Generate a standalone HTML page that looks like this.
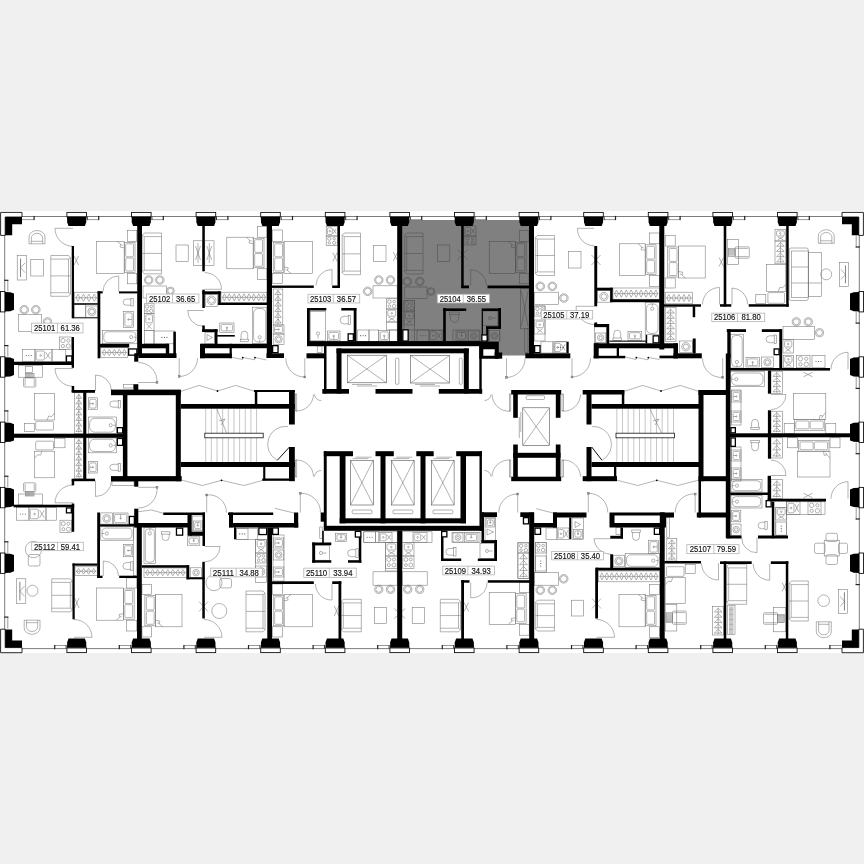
<!DOCTYPE html>
<html lang="ru"><head><meta charset="utf-8"><title>Floor plan</title>
<style>
html,body{margin:0;padding:0;background:#f0f0f0;}
body{width:864px;height:864px;overflow:hidden;font-family:"Liberation Sans",Arial,sans-serif;}
svg{display:block;filter:grayscale(1) blur(0.3px);}
</style></head><body>
<svg width="864" height="864" viewBox="0 0 864 864">
<rect x="0" y="211" width="864" height="442" fill="#fff"/>
<g><polygon fill="#808080" points="402,220 529.5,220 529.5,355.6 497.5,355.6 497.5,342 402,342"/></g>
<g fill="none" stroke="#747474" stroke-width="0.55"><path d="M29 243.8V236.9A8 6.4 0 0 1 45 236.9V243.8Z"/>
<path d="M31.3 243.8V238.1A5.7 4.8 0 0 1 42.7 238.1V243.8"/>
<polyline points="31.3,241.3 42.7,241.3"/>
<path d="M73 228.3L55 228.3A18 18 0 0 0 73 246.3"/>
<rect x="17.2" y="255.5" width="9.5" height="24.5"/>
<polyline points="20.52,258.5 20.52,277" stroke-width="0.9"/>
<polyline points="25.2,262.75 20.52,267.75 25.2,272.75"/>
<rect x="30.8" y="259.3" width="12.9" height="16.7"/>
<path d="M50.8 255.5H68.5L70.5 257.7V294.1L68.5 296.3H50.8Z"/>
<polyline points="50.8,259.1 68.5,259.1 70.5,257.7"/>
<polyline points="50.8,292.7 68.5,292.7 70.5,294.1"/>
<polyline points="68.5,259.1 68.5,292.7"/>
<polyline points="50.8,275.9 70.5,275.9"/>
<path d="M74.05 256L78.55 265M78.55 256L74.05 265"/>
<rect x="96.3" y="241.3" width="27.9" height="32.2"/>
<rect x="124.2" y="242.3" width="10.8" height="30.2"/>
<rect x="125.7" y="243.8" width="7.8" height="13" rx="1"/>
<rect x="125.7" y="258" width="7.8" height="13" rx="1"/>
<polyline points="117.2,241.3 120.7,244.3 120,247.1 124.2,247.8"/>
<polyline points="120.7,244.3 122.7,245.5"/>
<rect x="127.5" y="230.5" width="9.3" height="10.8"/>
<rect x="127.5" y="273.5" width="9.3" height="10.3"/>
<path d="M118.7 291.5L118.7 276A15.5 15.5 0 0 0 103 291.5"/>
<rect x="74.3" y="292.2" width="23.7" height="11.1"/>
<path d="M75.3 297.75H97M75.95 297.75L78.01 294.15L80.07 297.75L78.01 301.35ZM81.38 297.75L83.44 294.15L85.5 297.75L83.44 301.35ZM86.8 297.75L88.86 294.15L90.92 297.75L88.86 301.35ZM92.23 297.75L94.29 294.15L96.35 297.75L94.29 301.35Z"/>
<rect x="74.3" y="304.7" width="11.5" height="12.5"/>
<rect x="85.8" y="306" width="12" height="11.2"/>
<circle cx="91.8" cy="311.6" r="4"/>
<circle cx="91.8" cy="311.6" r="2.5"/>
<circle cx="24.2" cy="309.7" r="4.3"/>
<circle cx="24.2" cy="309.7" r="3.2"/>
<circle cx="35.8" cy="309.7" r="4.3"/>
<circle cx="35.8" cy="309.7" r="3.2"/>
<circle cx="47.5" cy="321.8" r="4.1"/>
<circle cx="47.5" cy="321.8" r="3"/>
<rect x="18.3" y="314.7" width="23.4" height="16.6"/>
<rect x="59.5" y="337" width="12.2" height="12.5"/>
<circle cx="62.92" cy="340.5" r="2.12"/>
<circle cx="68.28" cy="340.5" r="1.59"/>
<circle cx="62.92" cy="346" r="1.59"/>
<circle cx="68.28" cy="346" r="2.12"/>
<rect x="22.5" y="349.5" width="12.5" height="12"/>
<circle cx="26.25" cy="355.5" r="0.55" fill="#555" stroke="none"/>
<circle cx="28.75" cy="355.5" r="0.55" fill="#555" stroke="none"/>
<circle cx="31.25" cy="355.5" r="0.55" fill="#555" stroke="none"/>
<rect x="35" y="349.5" width="17" height="12"/>
<rect x="36.2" y="351" width="8.15" height="9" rx="1.2"/>
<polyline points="45.54,352 50.3,359"/>
<polyline points="50.3,352 45.54,359"/>
<circle cx="40.61" cy="355.5" r="0.8"/>
<rect x="52" y="349.5" width="13.8" height="12"/>
<rect x="130.9" y="298.3" width="2.3" height="7.7"/>
<path d="M130.9 299.1H126.35A3.25 3.05 0 0 0 126.35 305.2H130.9"/>
<rect x="123.5" y="311.5" width="10" height="16"/>
<rect x="124.9" y="312.9" width="7.2" height="13.2" rx="1.2"/>
<polyline points="132.1,319.5 128.5,319.5"/>
<circle cx="128.5" cy="319.5" r="0.7"/>
<rect x="102.5" y="330.5" width="34.7" height="13.3"/>
<rect x="103.8" y="331.8" width="32.1" height="10.7" rx="4.01"/>
<circle cx="131.2" cy="337.15" r="1.6"/>
<polyline points="133.8,337.15 136.2,337.15"/>
<rect x="100.8" y="347.8" width="27" height="9.5"/>
<path d="M101.8 352.55H126.8M102.4 352.55L104.3 349.4L106.2 352.55L104.3 355.7ZM107.4 352.55L109.3 349.4L111.2 352.55L109.3 355.7ZM112.4 352.55L114.3 349.4L116.2 352.55L114.3 355.7ZM117.4 352.55L119.3 349.4L121.2 352.55L119.3 355.7ZM122.4 352.55L124.3 349.4L126.2 352.55L124.3 355.7Z"/>
<rect x="18.3" y="365.3" width="24.2" height="11.9"/>
<rect x="23.5" y="377.82" width="12.3" height="9.18" rx="1.2"/>
<rect x="25.3" y="373.5" width="8.7" height="4.32"/>
<polyline points="26.3,373.5 26.3,377.82"/>
<polyline points="27.4,373.5 27.4,377.82"/>
<polyline points="28.5,373.5 28.5,377.82"/>
<polyline points="29.6,373.5 29.6,377.82"/>
<polyline points="30.7,373.5 30.7,377.82"/>
<polyline points="31.8,373.5 31.8,377.82"/>
<polyline points="32.9,373.5 32.9,377.82"/>
<polyline points="25.1,378.82 25.1,386"/>
<polyline points="34.2,378.82 34.2,386"/>
<rect x="25.5" y="366.3" width="7" height="6.2"/>
<path d="M73 368.5L55 368.5A18 18 0 0 0 73 386.3"/>
<rect x="34.5" y="393.3" width="20.2" height="26.7"/>
<rect x="35.7" y="421.3" width="17.8" height="8.7" rx="1"/>
<polyline points="54.7,413 51.7,416.5 48.7,416 47.2,420"/>
<rect x="24.7" y="423.3" width="9.8" height="8.2"/>
<rect x="34.5" y="451.2" width="20.2" height="26.6"/>
<rect x="35.7" y="441.2" width="17.8" height="8.7" rx="1"/>
<polyline points="34.5,458.2 37.5,454.7 40.5,455.2 42,451.2"/>
<rect x="54.7" y="438.7" width="10.3" height="9.1"/>
<rect x="74.3" y="392.8" width="9" height="40.7"/>
<path d="M78.8 393.8V432.5M78.8 394.35L75.9 398.33L81.7 398.33ZM78.8 399.88L75.9 403.86L81.7 403.86ZM78.8 405.41L75.9 409.39L81.7 409.39ZM78.8 410.94L75.9 414.92L81.7 414.92ZM78.8 416.47L75.9 420.45L81.7 420.45ZM78.8 422L75.9 425.98L81.7 425.98ZM78.8 427.52L75.9 431.5L81.7 431.5Z"/>
<rect x="74.3" y="438" width="9" height="40.7"/>
<path d="M78.8 439V477.7M78.8 439.55L75.9 443.53L81.7 443.53ZM78.8 445.08L75.9 449.06L81.7 449.06ZM78.8 450.61L75.9 454.59L81.7 454.59ZM78.8 456.14L75.9 460.12L81.7 460.12ZM78.8 461.67L75.9 465.65L81.7 465.65ZM78.8 467.2L75.9 471.18L81.7 471.18ZM78.8 472.72L75.9 476.7L81.7 476.7Z"/>
<path d="M95.5 391L95.5 375A16 16 0 0 1 111.5 391"/>
<path d="M95.5 480.5L95.5 496.5A16 16 0 0 0 111.5 480.5"/>
<rect x="88.3" y="397.8" width="9.2" height="11.7"/>
<rect x="89.7" y="399.2" width="6.4" height="8.9" rx="1.2"/>
<polyline points="89.7,403.65 92.9,403.65"/>
<circle cx="92.9" cy="403.65" r="0.7"/>
<rect x="118.2" y="400.3" width="2.3" height="7.7"/>
<path d="M118.2 401.1H113.05A3.25 3.05 0 0 0 113.05 407.2H118.2"/>
<rect x="88.3" y="417" width="28.4" height="16.5"/>
<rect x="89.6" y="418.3" width="25.8" height="13.9" rx="5.21"/>
<circle cx="110.7" cy="425.25" r="1.6"/>
<polyline points="113.3,425.25 115.7,425.25"/>
<rect x="88.3" y="438" width="28.4" height="14.8"/>
<rect x="89.6" y="439.3" width="25.8" height="12.2" rx="4.58"/>
<circle cx="110.7" cy="445.4" r="1.6"/>
<polyline points="113.3,445.4 115.7,445.4"/>
<rect x="88.3" y="461.5" width="9.2" height="11.5"/>
<rect x="89.7" y="462.9" width="6.4" height="8.7" rx="1.2"/>
<polyline points="89.7,467.25 92.9,467.25"/>
<circle cx="92.9" cy="467.25" r="0.7"/>
<rect x="118.2" y="463.5" width="2.3" height="7.7"/>
<path d="M118.2 464.3H113.05A3.25 3.05 0 0 0 113.05 470.4H118.2"/>
<rect x="123.5" y="384.5" width="9.8" height="3.5"/>
<rect x="112" y="481.7" width="22" height="3.9"/>
<rect x="156.1" y="381.6" width="1.8" height="1.8" fill="#bbb"/>
<path d="M138.3 382.5L157 382.5A18.7 18.7 0 0 0 138.3 362.5"/>
<rect x="156.1" y="486.4" width="1.8" height="1.8" fill="#bbb"/>
<path d="M138.3 487.3L157 487.3A18.7 18.7 0 0 1 138.3 508"/>
<rect x="178.3" y="375.6" width="1.8" height="1.8" fill="#bbb"/>
<path d="M179.2 358.2L179.2 376.5A18.3 18.3 0 0 0 197.5 358.2"/>
<rect x="205.8" y="494.1" width="1.8" height="1.8" fill="#bbb"/>
<path d="M206.7 512.5L206.7 495A17.5 17.5 0 0 1 226.5 512.5"/>
<rect x="18.3" y="494" width="24.2" height="11"/>
<rect x="23.5" y="482.8" width="12.3" height="8.98" rx="1.2"/>
<rect x="25.3" y="491.78" width="8.7" height="4.22"/>
<polyline points="26.3,491.78 26.3,496"/>
<polyline points="27.4,491.78 27.4,496"/>
<polyline points="28.5,491.78 28.5,496"/>
<polyline points="29.6,491.78 29.6,496"/>
<polyline points="30.7,491.78 30.7,496"/>
<polyline points="31.8,491.78 31.8,496"/>
<polyline points="32.9,491.78 32.9,496"/>
<polyline points="25.1,483.8 25.1,490.78"/>
<polyline points="34.2,483.8 34.2,490.78"/>
<path d="M73 502.8L55 502.8A18 18 0 0 1 73 485"/>
<rect x="16.7" y="507.7" width="12.3" height="12.5"/>
<circle cx="20.35" cy="513.95" r="0.55" fill="#555" stroke="none"/>
<circle cx="22.85" cy="513.95" r="0.55" fill="#555" stroke="none"/>
<circle cx="25.35" cy="513.95" r="0.55" fill="#555" stroke="none"/>
<rect x="29" y="507.7" width="17" height="12.5"/>
<rect x="30.2" y="509.2" width="8.15" height="9.5" rx="1.2"/>
<polyline points="39.54,510.2 44.3,517.7"/>
<polyline points="44.3,510.2 39.54,517.7"/>
<circle cx="34.61" cy="513.95" r="0.8"/>
<rect x="46" y="507.7" width="10.7" height="12.5"/>
<rect x="60" y="520.2" width="11.7" height="12.5"/>
<circle cx="63.28" cy="523.7" r="2.03"/>
<circle cx="68.42" cy="523.7" r="1.53"/>
<circle cx="63.28" cy="529.2" r="1.53"/>
<circle cx="68.42" cy="529.2" r="2.03"/>
<circle cx="33.5" cy="549.5" r="8.2"/>
<rect x="28.3" y="554.5" width="11.7" height="11.5" rx="2"/>
<rect x="16.7" y="578.8" width="9.1" height="24.7"/>
<polyline points="19.88,581.8 19.88,600.5" stroke-width="0.9"/>
<polyline points="24.3,586.15 19.88,591.15 24.3,596.15"/>
<circle cx="32.5" cy="590.7" r="5.5"/>
<path d="M51.7 578.8H70.3L72.3 581V609.6L70.3 611.8H51.7Z"/>
<polyline points="51.7,582.4 70.3,582.4 72.3,581"/>
<polyline points="51.7,608.2 70.3,608.2 72.3,609.6"/>
<polyline points="70.3,582.4 70.3,608.2"/>
<polyline points="51.7,595.3 72.3,595.3"/>
<path d="M74.55 598L79.05 608M79.05 598L74.55 608"/>
<path d="M24.2 620.2V627.98A7.9 6.32 0 0 0 40 627.98V620.2Z"/>
<path d="M26.5 620.2V626.78A5.6 4.72 0 0 0 37.7 626.78V620.2"/>
<polyline points="26.5,622.7 37.7,622.7"/>
<rect x="75" y="566.8" width="22.2" height="8.9"/>
<path d="M76 571.25H96.2M76.61 571.25L78.52 568.4L80.44 571.25L78.52 574.1ZM81.66 571.25L83.57 568.4L85.49 571.25L83.57 574.1ZM86.71 571.25L88.62 568.4L90.54 571.25L88.62 574.1ZM91.76 571.25L93.67 568.4L95.59 571.25L93.67 574.1Z"/>
<path d="M103.3 576L103.3 561A15 15 0 0 1 118.5 576"/>
<rect x="96.7" y="588" width="26.6" height="32.2"/>
<rect x="123.3" y="589" width="10.8" height="30.2"/>
<rect x="124.8" y="590.5" width="7.8" height="13" rx="1"/>
<rect x="124.8" y="604.7" width="7.8" height="13" rx="1"/>
<polyline points="116.3,620.2 119.8,617.2 119.1,614.4 123.3,613.7"/>
<polyline points="119.8,617.2 121.8,616"/>
<rect x="126.7" y="577.9" width="10.1" height="10.1"/>
<rect x="126.7" y="620.2" width="10.1" height="10.8"/>
<path d="M74 637.3L92 637.3A18 18 0 0 0 74 619.5"/>
<rect x="100.8" y="512.9" width="11.7" height="11.2"/>
<circle cx="106.65" cy="518.5" r="4"/>
<circle cx="106.65" cy="518.5" r="2.5"/>
<rect x="113.3" y="513" width="14.7" height="11"/>
<rect x="114.7" y="514.4" width="11.9" height="8.2" rx="1.2"/>
<polyline points="120.65,514.4 120.65,518.5"/>
<circle cx="120.65" cy="518.5" r="0.7"/>
<rect x="100.8" y="526.8" width="32.5" height="13.4"/>
<rect x="102.1" y="528.1" width="29.9" height="10.8" rx="4.05"/>
<circle cx="106.8" cy="533.5" r="1.6"/>
<polyline points="104.2,533.5 101.8,533.5"/>
<rect x="123.3" y="544.3" width="9.5" height="12.5"/>
<rect x="124.7" y="545.7" width="6.7" height="9.7" rx="1.2"/>
<polyline points="131.4,550.55 128.05,550.55"/>
<circle cx="128.05" cy="550.55" r="0.7"/>
<rect x="130.7" y="561.8" width="2.3" height="8.4"/>
<path d="M130.7 562.6H126.5A3.6 3.4 0 0 0 126.5 569.4H130.7"/>
<rect x="133.5" y="527" width="3.3" height="48.5"/>
<path d="M161.5 233H144.2L142.2 235.2V271.6L144.2 273.8H161.5Z"/>
<polyline points="161.5,236.6 144.2,236.6 142.2,235.2"/>
<polyline points="161.5,270.2 144.2,270.2 142.2,271.6"/>
<polyline points="144.2,236.6 144.2,270.2"/>
<polyline points="142.2,253.4 161.5,253.4"/>
<circle cx="148.7" cy="280" r="4.3"/>
<circle cx="148.7" cy="280" r="3.2"/>
<circle cx="159.8" cy="280" r="4.3"/>
<circle cx="159.8" cy="280" r="3.2"/>
<circle cx="170.5" cy="290.8" r="3.8"/>
<circle cx="170.5" cy="290.8" r="2.7"/>
<rect x="143" y="286" width="23.5" height="12"/>
<rect x="176" y="245" width="12.2" height="16.3"/>
<rect x="193.5" y="240.8" width="8.8" height="24.7"/>
<rect x="204.8" y="240.8" width="9.2" height="24.7"/>
<path d="M195.5 246L200.5 260M200.5 246L195.5 260"/>
<path d="M206.8 246L211.8 260M211.8 246L206.8 260"/>
<polyline points="198,243 198,263"/>
<polyline points="209.3,243 209.3,263"/>
<path d="M204.8 289.3L221.5 289.3A16.7 16.7 0 0 0 204.8 272.6"/>
<rect x="226.8" y="237.2" width="26.4" height="31.6"/>
<rect x="253.2" y="238.2" width="10.8" height="29.6"/>
<rect x="254.7" y="239.7" width="7.8" height="12.7" rx="1"/>
<rect x="254.7" y="253.6" width="7.8" height="12.7" rx="1"/>
<polyline points="246.2,237.2 249.7,240.2 249,243 253.2,243.7"/>
<polyline points="249.7,240.2 251.7,241.4"/>
<rect x="257.3" y="226.3" width="9.7" height="10.9"/>
<rect x="257.3" y="268.8" width="9.7" height="10.9"/>
<rect x="221" y="292.2" width="46" height="10.3"/>
<path d="M222 297.35H266M222.59 297.35L224.44 293.8L226.3 297.35L224.44 300.9ZM227.48 297.35L229.33 293.8L231.19 297.35L229.33 300.9ZM232.36 297.35L234.22 293.8L236.08 297.35L234.22 300.9ZM237.25 297.35L239.11 293.8L240.97 297.35L239.11 300.9ZM242.14 297.35L244 293.8L245.86 297.35L244 300.9ZM247.03 297.35L248.89 293.8L250.75 297.35L248.89 300.9ZM251.92 297.35L253.78 293.8L255.64 297.35L253.78 300.9ZM256.81 297.35L258.67 293.8L260.52 297.35L258.67 300.9ZM261.7 297.35L263.56 293.8L265.41 297.35L263.56 300.9Z"/>
<rect x="205.5" y="294.4" width="12" height="11.9"/>
<circle cx="211.5" cy="300.35" r="4.35"/>
<circle cx="211.5" cy="300.35" r="2.85"/>
<rect x="144.3" y="303.8" width="9.7" height="9.7"/>
<circle cx="147.02" cy="306.52" r="1.69"/>
<circle cx="151.28" cy="306.52" r="1.27"/>
<circle cx="147.02" cy="310.78" r="1.27"/>
<circle cx="151.28" cy="310.78" r="1.69"/>
<rect x="144.3" y="313.5" width="9.7" height="17"/>
<rect x="145.8" y="314.7" width="6.7" height="8.15" rx="1.2"/>
<polyline points="146.8,324.04 151.5,328.8"/>
<polyline points="151.5,324.04 146.8,328.8"/>
<circle cx="149.15" cy="319.11" r="0.8"/>
<rect x="144.3" y="330.5" width="9.7" height="13.3"/>
<rect x="154" y="331" width="20.8" height="12.8"/>
<circle cx="161.9" cy="337.4" r="0.55" fill="#555" stroke="none"/>
<circle cx="164.4" cy="337.4" r="0.55" fill="#555" stroke="none"/>
<circle cx="166.9" cy="337.4" r="0.55" fill="#555" stroke="none"/>
<path d="M203.5 310.5L187.7 310.5A15.8 15.8 0 0 0 203.5 326.3"/>
<rect x="205" y="332.3" width="9.5" height="11.2"/>
<polyline points="207,340.5 212.5,337.5 207,334.5 207,340.5"/>
<rect x="219.8" y="323" width="14.2" height="9.3"/>
<rect x="221.2" y="324.4" width="11.4" height="6.5" rx="1.2"/>
<polyline points="226.9,330.9 226.9,327.65"/>
<circle cx="226.9" cy="327.65" r="0.7"/>
<rect x="240.3" y="339.2" width="8.2" height="2.3"/>
<path d="M241.1 339.2V334.6A3.3 3.5 0 0 1 247.7 334.6V339.2"/>
<rect x="252.3" y="307.2" width="14.7" height="36.1"/>
<rect x="253.6" y="308.5" width="12.1" height="33.5" rx="4.54"/>
<circle cx="259.65" cy="337.3" r="1.6"/>
<polyline points="259.65,339.9 259.65,342.3"/>
<rect x="284" y="241.3" width="28.7" height="32.2"/>
<rect x="273.2" y="242.3" width="10.8" height="30.2"/>
<rect x="274.7" y="243.8" width="7.8" height="13" rx="1"/>
<rect x="274.7" y="258" width="7.8" height="13" rx="1"/>
<polyline points="291,273.5 287.5,270.5 288.2,267.7 284,267"/>
<polyline points="287.5,270.5 285.5,269.3"/>
<rect x="272.5" y="230" width="10" height="11.3"/>
<rect x="272.5" y="273.5" width="10" height="9.8"/>
<rect x="273.2" y="289" width="9.6" height="36"/>
<path d="M278 290V324M278 290.57L274.8 294.65L281.2 294.65ZM278 296.23L274.8 300.31L281.2 300.31ZM278 301.9L274.8 305.98L281.2 305.98ZM278 307.57L274.8 311.65L281.2 311.65ZM278 313.23L274.8 317.31L281.2 317.31ZM278 318.9L274.8 322.98L281.2 322.98Z"/>
<rect x="273.2" y="334" width="10.8" height="10.5"/>
<circle cx="278.6" cy="339.25" r="3.65"/>
<circle cx="278.6" cy="339.25" r="2.15"/>
<rect x="273.2" y="325" width="10.8" height="9"/>
<rect x="274.6" y="326.4" width="8" height="6.2" rx="1.2"/>
<polyline points="274.6,329.5 278.6,329.5"/>
<circle cx="278.6" cy="329.5" r="0.7"/>
<path d="M332 285.5L332 269.5A16 16 0 0 0 316 285.5"/>
<rect x="326.2" y="226.3" width="11.1" height="9.7"/>
<rect x="327.4" y="227.8" width="4.91" height="6.7" rx="1.2"/>
<polyline points="333.08,228.8 336.19,233.5"/>
<polyline points="336.19,228.8 333.08,233.5"/>
<circle cx="329.86" cy="231.15" r="0.8"/>
<rect x="326.2" y="236" width="11.1" height="9.5"/>
<circle cx="329.31" cy="238.66" r="1.65"/>
<circle cx="334.19" cy="238.66" r="1.24"/>
<circle cx="329.31" cy="242.84" r="1.24"/>
<circle cx="334.19" cy="242.84" r="1.65"/>
<path d="M332.75 252.5L337.25 261.5M337.25 252.5L332.75 261.5"/>
<path d="M360.5 233H344.2L342.2 235.2V272.5L344.2 274.7H360.5Z"/>
<polyline points="360.5,236.6 344.2,236.6 342.2,235.2"/>
<polyline points="360.5,271.1 344.2,271.1 342.2,272.5"/>
<polyline points="344.2,236.6 344.2,271.1"/>
<polyline points="342.2,253.85 360.5,253.85"/>
<rect x="373.3" y="245.5" width="12.7" height="16.2"/>
<path d="M393.25 252L397.75 261M397.75 252L393.25 261"/>
<circle cx="378.8" cy="280" r="4.3"/>
<circle cx="378.8" cy="280" r="3.2"/>
<circle cx="390.5" cy="280" r="4.3"/>
<circle cx="390.5" cy="280" r="3.2"/>
<circle cx="367.7" cy="291.3" r="4.3"/>
<circle cx="367.7" cy="291.3" r="3.2"/>
<rect x="373" y="285.8" width="24.2" height="12.2"/>
<rect x="386.3" y="298.8" width="10.9" height="10.2"/>
<circle cx="389.35" cy="301.66" r="1.77"/>
<circle cx="394.15" cy="301.66" r="1.33"/>
<circle cx="389.35" cy="306.14" r="1.33"/>
<circle cx="394.15" cy="306.14" r="1.77"/>
<rect x="386.3" y="309" width="10.9" height="13"/>
<rect x="387.8" y="310.2" width="7.9" height="5.95" rx="1.2"/>
<polyline points="388.8,317.06 394.7,320.7"/>
<polyline points="394.7,317.06 388.8,320.7"/>
<circle cx="391.75" cy="313.29" r="0.8"/>
<rect x="386.3" y="322" width="10.9" height="8"/>
<rect x="357.2" y="330" width="11.8" height="11.3"/>
<circle cx="360.6" cy="335.65" r="0.55" fill="#555" stroke="none"/>
<circle cx="363.1" cy="335.65" r="0.55" fill="#555" stroke="none"/>
<circle cx="365.6" cy="335.65" r="0.55" fill="#555" stroke="none"/>
<rect x="369" y="330" width="9.8" height="11.3"/>
<rect x="378.8" y="330.5" width="10.9" height="10.5"/>
<rect x="380.2" y="331.9" width="8.1" height="7.7" rx="1.2"/>
<polyline points="384.25,339.6 384.25,335.75"/>
<circle cx="384.25" cy="335.75" r="0.7"/>
<rect x="389.7" y="330" width="7.5" height="11.3"/>
<rect x="310.2" y="311.3" width="15.3" height="29.5"/>
<circle cx="318" cy="333.5" r="1.6"/>
<polyline points="318,335.5 318,338.5"/>
<rect x="327.5" y="331" width="12.5" height="9.8"/>
<rect x="328.9" y="332.4" width="9.7" height="7" rx="1.2"/>
<polyline points="333.75,339.4 333.75,335.9"/>
<circle cx="333.75" cy="335.9" r="0.7"/>
<rect x="348.2" y="315.5" width="2.3" height="9.2"/>
<path d="M348.2 316.3H344.1A4 3.8 0 0 0 344.1 323.9H348.2"/>
<rect x="317.2" y="346" width="4.8" height="6.6"/>
<rect x="303.9" y="376.1" width="1.8" height="1.8" fill="#bbb"/>
<path d="M304.8 358.3L304.8 377A18.7 18.7 0 0 1 285.8 358.3"/>
<path d="M554.5 235.5H537.3L535.3 237.7V273.3L537.3 275.5H554.5Z"/>
<polyline points="554.5,239.1 537.3,239.1 535.3,237.7"/>
<polyline points="554.5,271.9 537.3,271.9 535.3,273.3"/>
<polyline points="537.3,239.1 537.3,271.9"/>
<polyline points="535.3,255.5 554.5,255.5"/>
<circle cx="540.3" cy="286.3" r="4.3"/>
<circle cx="540.3" cy="286.3" r="3.2"/>
<circle cx="552.3" cy="286.3" r="4.3"/>
<circle cx="552.3" cy="286.3" r="3.2"/>
<circle cx="563.9" cy="298" r="4.3"/>
<circle cx="563.9" cy="298" r="3.2"/>
<rect x="534.5" y="292.2" width="24.2" height="12.5"/>
<rect x="568.7" y="251.3" width="12.3" height="16.7"/>
<rect x="534.5" y="306" width="10.5" height="10"/>
<circle cx="537.44" cy="308.8" r="1.74"/>
<circle cx="542.06" cy="308.8" r="1.3"/>
<circle cx="537.44" cy="313.2" r="1.3"/>
<circle cx="542.06" cy="313.2" r="1.74"/>
<rect x="534.5" y="320" width="10.5" height="14"/>
<rect x="536" y="321.2" width="7.5" height="6.5" rx="1.2"/>
<polyline points="537,328.68 542.5,332.6"/>
<polyline points="542.5,328.68 537,332.6"/>
<circle cx="539.75" cy="324.62" r="0.8"/>
<rect x="534.5" y="306" width="10.5" height="35"/>
<rect x="541" y="341.8" width="12" height="11.2"/>
<rect x="553" y="341.8" width="13.5" height="11.2"/>
<rect x="554.2" y="343.3" width="6.22" height="8.2" rx="1.2"/>
<polyline points="561.37,344.3 565.15,350.5"/>
<polyline points="565.15,344.3 561.37,350.5"/>
<circle cx="557.46" cy="347.4" r="0.8"/>
<rect x="555" y="341.8" width="11.5" height="11.2"/>
<circle cx="558.25" cy="347.4" r="0.55" fill="#555" stroke="none"/>
<circle cx="560.75" cy="347.4" r="0.55" fill="#555" stroke="none"/>
<circle cx="563.25" cy="347.4" r="0.55" fill="#555" stroke="none"/>
<path d="M594.3 228.3L577.5 228.3A16.8 16.8 0 0 0 594.3 245.8"/>
<path d="M591.5 255L600.5 265M600.5 255L591.5 265"/>
<rect x="619.3" y="243.8" width="25.9" height="31.7"/>
<rect x="645.2" y="244.8" width="10.8" height="29.7"/>
<rect x="646.7" y="246.3" width="7.8" height="12.75" rx="1"/>
<rect x="646.7" y="260.25" width="7.8" height="12.75" rx="1"/>
<polyline points="638.2,243.8 641.7,246.8 641,249.6 645.2,250.3"/>
<polyline points="641.7,246.8 643.7,248"/>
<rect x="649.3" y="233" width="10" height="10.8"/>
<rect x="649.3" y="275.5" width="10" height="10.8"/>
<rect x="613" y="288" width="46.3" height="11.2"/>
<path d="M614 293.6H658.3M614.59 293.6L616.46 290L618.33 293.6L616.46 297.2ZM619.51 293.6L621.38 290L623.25 293.6L621.38 297.2ZM624.44 293.6L626.31 290L628.18 293.6L626.31 297.2ZM629.36 293.6L631.23 290L633.1 293.6L631.23 297.2ZM634.28 293.6L636.15 290L638.02 293.6L636.15 297.2ZM639.2 293.6L641.07 290L642.94 293.6L641.07 297.2ZM644.12 293.6L645.99 290L647.86 293.6L645.99 297.2ZM649.05 293.6L650.92 290L652.79 293.6L650.92 297.2ZM653.97 293.6L655.84 290L657.71 293.6L655.84 297.2Z"/>
<rect x="597.5" y="290.7" width="12.7" height="11.5"/>
<circle cx="603.85" cy="296.45" r="4.15"/>
<circle cx="603.85" cy="296.45" r="2.65"/>
<path d="M594.3 306.3L576 306.3A18.3 18.3 0 0 0 594.3 324.5"/>
<rect x="613" y="338" width="8.5" height="2.3"/>
<path d="M613.8 338V333.75A3.45 3.65 0 0 1 620.7 333.75V338"/>
<rect x="628" y="331.3" width="13.8" height="9"/>
<rect x="629.4" y="332.7" width="11" height="6.2" rx="1.2"/>
<polyline points="634.9,338.9 634.9,335.8"/>
<circle cx="634.9" cy="335.8" r="0.7"/>
<rect x="645.2" y="302.7" width="14.1" height="32"/>
<rect x="646.5" y="304" width="11.5" height="29.4" rx="4.31"/>
<circle cx="652.25" cy="308.7" r="1.6"/>
<polyline points="652.25,306.1 652.25,303.7"/>
<rect x="594.7" y="327" width="11.8" height="16"/>
<rect x="595.5" y="333" width="10.3" height="9.6"/>
<circle cx="600.65" cy="337.8" r="3.2"/>
<circle cx="600.65" cy="337.8" r="1.7"/>
<rect x="571.1" y="376.1" width="1.8" height="1.8" fill="#bbb"/>
<path d="M572 358.3L572 377A18.7 18.7 0 0 0 590.5 358.3"/>
<rect x="678.5" y="246" width="26.7" height="32"/>
<rect x="667.7" y="247" width="10.8" height="30"/>
<rect x="669.2" y="248.5" width="7.8" height="12.9" rx="1"/>
<rect x="669.2" y="262.6" width="7.8" height="12.9" rx="1"/>
<polyline points="685.5,278 682,275 682.7,272.2 678.5,271.5"/>
<polyline points="682,275 680,273.8"/>
<rect x="665.2" y="235.5" width="10" height="10.5"/>
<rect x="665.2" y="278" width="10" height="10"/>
<rect x="665.2" y="292.2" width="27.5" height="11.6"/>
<path d="M666.2 298H691.7M666.81 298L668.75 294.4L670.69 298L668.75 301.6ZM671.91 298L673.85 294.4L675.79 298L673.85 301.6ZM677.01 298L678.95 294.4L680.89 298L678.95 301.6ZM682.11 298L684.05 294.4L685.99 298L684.05 301.6ZM687.21 298L689.15 294.4L691.09 298L689.15 301.6Z"/>
<rect x="665.2" y="307.7" width="10.8" height="33.6"/>
<path d="M670.6 308.7V340.3M670.6 309.23L666.8 313.02L674.4 313.02ZM670.6 314.49L666.8 318.29L674.4 318.29ZM670.6 319.76L666.8 323.55L674.4 323.55ZM670.6 325.03L666.8 328.82L674.4 328.82ZM670.6 330.29L666.8 334.09L674.4 334.09ZM670.6 335.56L666.8 339.35L674.4 339.35Z"/>
<path d="M719.5 304.5L719.5 287.5A17 17 0 0 0 702.5 304.5"/>
<rect x="679.3" y="341" width="13.2" height="11.5"/>
<circle cx="685.9" cy="346.75" r="4.15"/>
<circle cx="685.9" cy="346.75" r="2.65"/>
<path d="M719.05 257.5L723.55 266.5M723.55 257.5L719.05 266.5"/>
<rect x="727.5" y="239.7" width="11.2" height="25"/>
<rect x="735.16" y="246.8" width="14.14" height="11.4" rx="1.2"/>
<rect x="728.5" y="248.6" width="6.66" height="7.8"/>
<polyline points="728.5,249.6 735.16,249.6"/>
<polyline points="728.5,250.7 735.16,250.7"/>
<polyline points="728.5,251.8 735.16,251.8"/>
<polyline points="728.5,252.9 735.16,252.9"/>
<polyline points="728.5,254 735.16,254"/>
<polyline points="728.5,255.1 735.16,255.1"/>
<polyline points="736.16,248.4 748.3,248.4"/>
<polyline points="736.16,256.6 748.3,256.6"/>
<rect x="775" y="229.7" width="10.8" height="11.3"/>
<rect x="776.5" y="230.9" width="7.8" height="5.02" rx="1.2"/>
<polyline points="777.5,236.71 783.3,239.87"/>
<polyline points="783.3,236.71 777.5,239.87"/>
<circle cx="780.4" cy="233.43" r="0.8"/>
<rect x="775" y="241" width="10.8" height="22.8"/>
<path d="M780.4 242V262.8M780.4 242.52L776.6 246.26L784.2 246.26ZM780.4 247.72L776.6 251.46L784.2 251.46ZM780.4 252.92L776.6 256.66L784.2 256.66ZM780.4 258.12L776.6 261.86L784.2 261.86Z"/>
<rect x="766.7" y="264.7" width="19.1" height="26.6"/>
<rect x="767.9" y="292.6" width="16.7" height="10.7" rx="1"/>
<polyline points="785.8,284.3 782.8,287.8 779.8,287.3 778.3,291.3"/>
<rect x="755.8" y="294.3" width="10" height="9.2"/>
<path d="M732 304.2L732 288A16.2 16.2 0 0 1 747.7 304.2"/>
<rect x="789.2" y="248" width="19.1" height="52.5" rx="2"/>
<rect x="791.5" y="251" width="16.8" height="46.5"/>
<polyline points="791.5,267 808.3,267"/>
<polyline points="791.5,283 808.3,283"/>
<rect x="808.3" y="252.5" width="13.2" height="44"/>
<polyline points="808.3,283 821.5,283"/>
<circle cx="826.2" cy="274.3" r="5.5"/>
<rect x="839.5" y="262.5" width="9.2" height="23.8"/>
<polyline points="845.48,265.5 845.48,283.3" stroke-width="0.9"/>
<polyline points="841,269.4 845.48,274.4 841,279.4"/>
<path d="M818.3 243.3V236.06A7.95 6.36 0 0 1 834.2 236.06V243.3Z"/>
<path d="M820.6 243.3V237.26A5.65 4.76 0 0 1 831.9 237.26V243.3"/>
<polyline points="820.6,240.8 831.9,240.8"/>
<circle cx="796.3" cy="321.8" r="4.1"/>
<circle cx="796.3" cy="321.8" r="3"/>
<circle cx="808.3" cy="321.8" r="4.1"/>
<circle cx="808.3" cy="321.8" r="3"/>
<circle cx="819.5" cy="332.7" r="4.1"/>
<circle cx="819.5" cy="332.7" r="3"/>
<rect x="783" y="326.7" width="31.7" height="13"/>
<rect x="783" y="339.7" width="10.3" height="13.3"/>
<rect x="784.5" y="340.9" width="7.3" height="6.12" rx="1.2"/>
<polyline points="785.5,347.95 790.8,351.67"/>
<polyline points="790.8,347.95 785.5,351.67"/>
<circle cx="788.15" cy="344.09" r="0.8"/>
<rect x="783.3" y="355.3" width="10.2" height="12.5"/>
<rect x="784.8" y="356.5" width="7.2" height="5.68" rx="1.2"/>
<polyline points="785.8,363.05 791,366.55"/>
<polyline points="791,363.05 785.8,366.55"/>
<circle cx="788.4" cy="359.43" r="0.8"/>
<rect x="796.7" y="355.3" width="13.3" height="12.5"/>
<circle cx="800.42" cy="358.8" r="2.17"/>
<circle cx="806.28" cy="358.8" r="1.63"/>
<circle cx="800.42" cy="364.3" r="1.63"/>
<circle cx="806.28" cy="364.3" r="2.17"/>
<rect x="812" y="355.3" width="13" height="12.5"/>
<circle cx="816" cy="361.55" r="0.55" fill="#555" stroke="none"/>
<circle cx="818.5" cy="361.55" r="0.55" fill="#555" stroke="none"/>
<circle cx="821" cy="361.55" r="0.55" fill="#555" stroke="none"/>
<path d="M848 369.3L848 352.3A17 17 0 0 0 831 369.3"/>
<path d="M803.5 372.25L812.5 376.75M812.5 372.25L803.5 376.75"/>
<rect x="730.3" y="334.2" width="13.2" height="33.8"/>
<rect x="731.6" y="335.5" width="10.6" height="31.2" rx="3.98"/>
<circle cx="736.9" cy="362" r="1.6"/>
<polyline points="736.9,364.6 736.9,367"/>
<rect x="774.2" y="335" width="2.3" height="8.5"/>
<path d="M774.2 335.8H769.75A3.65 3.45 0 0 0 769.75 342.7H774.2"/>
<rect x="746" y="357.5" width="13.3" height="9.5"/>
<rect x="747.4" y="358.9" width="10.5" height="6.7" rx="1.2"/>
<polyline points="752.65,365.6 752.65,362.25"/>
<circle cx="752.65" cy="362.25" r="0.7"/>
<rect x="761.5" y="357" width="11.8" height="10.5"/>
<circle cx="767.4" cy="362.25" r="3.65"/>
<circle cx="767.4" cy="362.25" r="2.15"/>
<rect x="730.3" y="371.7" width="34" height="15"/>
<rect x="731.6" y="373" width="31.4" height="12.4" rx="4.65"/>
<circle cx="736.3" cy="379.2" r="1.6"/>
<polyline points="733.7,379.2 731.3,379.2"/>
<rect x="731.7" y="390" width="9.3" height="35"/>
<rect x="731.7" y="391" width="9.3" height="11"/>
<rect x="733.1" y="392.4" width="6.5" height="8.2" rx="1.2"/>
<polyline points="733.1,396.5 736.35,396.5"/>
<circle cx="736.35" cy="396.5" r="0.7"/>
<rect x="731.7" y="411" width="9.3" height="11"/>
<rect x="733.1" y="412.4" width="6.5" height="8.2" rx="1.2"/>
<polyline points="733.1,416.5 736.35,416.5"/>
<circle cx="736.35" cy="416.5" r="0.7"/>
<rect x="750.8" y="427.4" width="8.5" height="2.3"/>
<path d="M751.6 427.4V422.95A3.45 3.65 0 0 1 758.5 422.95V427.4"/>
<rect x="771" y="371.2" width="11.5" height="22.5"/>
<path d="M776.75 372.2V392.7M776.75 372.71L772.95 376.4L780.55 376.4ZM776.75 377.84L772.95 381.53L780.55 381.53ZM776.75 382.96L772.95 386.65L780.55 386.65ZM776.75 388.09L772.95 391.78L780.55 391.78Z"/>
<rect x="771" y="411.2" width="11.5" height="22.1"/>
<path d="M776.75 412.2V432.3M776.75 412.7L772.95 416.32L780.55 416.32ZM776.75 417.73L772.95 421.35L780.55 421.35ZM776.75 422.75L772.95 426.37L780.55 426.37ZM776.75 427.78L772.95 431.4L780.55 431.4Z"/>
<path d="M770.8 394.5L786 394.5A15.2 15.2 0 0 1 770.8 409.7"/>
<rect x="793.3" y="393.3" width="32.5" height="26.2"/>
<rect x="794.3" y="419.5" width="30.5" height="10.8"/>
<rect x="795.8" y="421" width="13.15" height="7.8" rx="1"/>
<rect x="810.15" y="421" width="13.15" height="7.8" rx="1"/>
<polyline points="825.8,412.5 822.8,416 820,415.3 819.3,419.5"/>
<polyline points="822.8,416 821.6,418"/>
<rect x="784.2" y="423.3" width="10" height="10"/>
<rect x="825.8" y="423.3" width="10" height="10"/>
<rect x="797.5" y="451.2" width="32.5" height="25.8"/>
<rect x="798.5" y="440.4" width="30.5" height="10.8"/>
<rect x="800" y="441.9" width="13.15" height="7.8" rx="1"/>
<rect x="814.35" y="441.9" width="13.15" height="7.8" rx="1"/>
<polyline points="830,458.2 827,454.7 824.2,455.4 823.5,451.2"/>
<polyline points="827,454.7 825.8,452.7"/>
<rect x="787.5" y="437.8" width="10" height="10"/>
<rect x="830" y="437.8" width="10" height="10"/>
<rect x="771" y="437.8" width="11.5" height="20.2"/>
<path d="M776.75 438.8V457M776.75 439.41L772.95 443.77L780.55 443.77ZM776.75 445.47L772.95 449.84L780.55 449.84ZM776.75 451.54L772.95 455.91L780.55 455.91Z"/>
<rect x="771" y="479.5" width="11.5" height="19"/>
<path d="M776.75 480.5V497.5M776.75 481.07L772.95 485.15L780.55 485.15ZM776.75 486.73L772.95 490.81L780.55 490.81ZM776.75 492.4L772.95 496.48L780.55 496.48Z"/>
<path d="M770.8 475.5L786 475.5A15.2 15.2 0 0 0 770.8 460"/>
<rect x="750.8" y="440.5" width="8.5" height="2.3"/>
<path d="M751.6 442.8V447.25A3.45 3.65 0 0 0 758.5 447.25V442.8"/>
<rect x="731.7" y="447" width="9.3" height="34"/>
<rect x="731.7" y="450" width="9.3" height="11"/>
<rect x="733.1" y="451.4" width="6.5" height="8.2" rx="1.2"/>
<polyline points="733.1,455.5 736.35,455.5"/>
<circle cx="736.35" cy="455.5" r="0.7"/>
<rect x="731.7" y="468" width="9.3" height="11"/>
<rect x="733.1" y="469.4" width="6.5" height="8.2" rx="1.2"/>
<polyline points="733.1,473.5 736.35,473.5"/>
<circle cx="736.35" cy="473.5" r="0.7"/>
<rect x="731" y="479.4" width="31" height="12.5"/>
<rect x="732.3" y="480.7" width="28.4" height="9.9" rx="3.71"/>
<circle cx="737" cy="485.65" r="1.6"/>
<polyline points="734.4,485.65 732,485.65"/>
<rect x="731" y="495.3" width="31" height="12.7"/>
<rect x="732.3" y="496.6" width="28.4" height="10.1" rx="3.79"/>
<circle cx="737" cy="501.65" r="1.6"/>
<polyline points="734.4,501.65 732,501.65"/>
<rect x="731.3" y="510.2" width="9.5" height="11.6"/>
<rect x="732.7" y="511.6" width="6.7" height="8.8" rx="1.2"/>
<polyline points="732.7,516 736.05,516"/>
<circle cx="736.05" cy="516" r="0.7"/>
<rect x="731.3" y="524" width="9.7" height="11.2"/>
<circle cx="736.15" cy="529.6" r="3.25"/>
<circle cx="736.15" cy="529.6" r="1.75"/>
<rect x="764.9" y="521.5" width="2.3" height="8"/>
<path d="M764.9 522.3H761.5A3.4 3.2 0 0 0 761.5 528.7H764.9"/>
<path d="M848 498.7L848 481.7A17 17 0 0 0 831 498.7"/>
<path d="M803.5 493.25L812.5 497.75M812.5 493.25L803.5 497.75"/>
<rect x="786.7" y="501.8" width="13.3" height="12.5"/>
<rect x="787.9" y="503.3" width="6.11" height="9.5" rx="1.2"/>
<polyline points="794.95,504.3 798.67,511.8"/>
<polyline points="798.67,504.3 794.95,511.8"/>
<circle cx="791.09" cy="508.05" r="0.8"/>
<rect x="808" y="501.8" width="13" height="12.5"/>
<circle cx="811.64" cy="505.3" r="2.17"/>
<circle cx="817.36" cy="505.3" r="1.63"/>
<circle cx="811.64" cy="510.8" r="1.63"/>
<circle cx="817.36" cy="510.8" r="2.17"/>
<rect x="786.7" y="501.8" width="38.3" height="12.5"/>
<rect x="775.8" y="507.7" width="10.9" height="12.3"/>
<rect x="777.3" y="508.9" width="7.9" height="5.57" rx="1.2"/>
<polyline points="778.3,515.33 784.2,518.77"/>
<polyline points="784.2,515.33 778.3,518.77"/>
<circle cx="781.25" cy="511.76" r="0.8"/>
<rect x="775.8" y="522" width="10.9" height="13.2"/>
<circle cx="781.25" cy="526.1" r="0.55" fill="#555" stroke="none"/>
<circle cx="781.25" cy="528.6" r="0.55" fill="#555" stroke="none"/>
<circle cx="781.25" cy="531.1" r="0.55" fill="#555" stroke="none"/>
<rect x="775.8" y="507.7" width="10.9" height="27.5"/>
<path d="M757 537.7L757 552.7A15 15 0 0 1 741.7 537.7"/>
<rect x="824.2" y="540.2" width="15" height="15.8"/>
<rect x="826" y="533.3" width="11.5" height="8.2" rx="2"/>
<rect x="826" y="554.7" width="11.5" height="9.8" rx="2"/>
<rect x="814.5" y="543.2" width="10.5" height="10.3" rx="2"/>
<rect x="838.5" y="543.2" width="9" height="10.3" rx="2"/>
<path d="M808.3 581H791.2L789.2 583.2V618.8L791.2 621H808.3Z"/>
<polyline points="808.3,584.6 791.2,584.6 789.2,583.2"/>
<polyline points="808.3,617.4 791.2,617.4 789.2,618.8"/>
<polyline points="791.2,584.6 791.2,617.4"/>
<polyline points="789.2,601 808.3,601"/>
<path d="M782.05 582.5L786.55 591.5M786.55 582.5L782.05 591.5"/>
<circle cx="823.7" cy="600.7" r="5.8"/>
<rect x="838.7" y="589.3" width="8.8" height="24.2"/>
<polyline points="844.42,592.3 844.42,610.5" stroke-width="0.9"/>
<polyline points="840.2,596.4 844.42,601.4 840.2,606.4"/>
<path d="M816.3 621.8V631.7A7.5 6 0 0 0 831.3 631.7V621.8Z"/>
<path d="M818.6 621.8V630.5A5.2 4.4 0 0 0 829 630.5V621.8"/>
<polyline points="818.6,624.3 829,624.3"/>
<path d="M769.7 563.9L769.7 580.2A16.3 16.3 0 0 1 753.3 563.9"/>
<path d="M746.7 564.3H728.7L726.7 566.5V602.1L728.7 604.3H746.7Z"/>
<polyline points="746.7,567.9 728.7,567.9 726.7,566.5"/>
<polyline points="746.7,600.7 728.7,600.7 726.7,602.1"/>
<polyline points="728.7,567.9 728.7,600.7"/>
<polyline points="726.7,584.3 746.7,584.3"/>
<rect x="727.5" y="605.2" width="7.5" height="29.1"/>
<rect x="712.7" y="606.7" width="11" height="28.3"/>
<path d="M718.2 607.7V634M718.2 608.23L714.4 612.01L722 612.01ZM718.2 613.49L714.4 617.27L722 617.27ZM718.2 618.75L714.4 622.53L722 622.53ZM718.2 624.01L714.4 627.79L722 627.79ZM718.2 629.27L714.4 633.05L722 633.05Z"/>
<polyline points="729,607 733.5,607"/>
<polyline points="729,608.25 733.5,608.25"/>
<polyline points="729,609.5 733.5,609.5"/>
<polyline points="729,610.75 733.5,610.75"/>
<polyline points="729,612 733.5,612"/>
<polyline points="729,613.25 733.5,613.25"/>
<polyline points="729,614.5 733.5,614.5"/>
<polyline points="729,615.75 733.5,615.75"/>
<polyline points="729,617 733.5,617"/>
<polyline points="729,618.25 733.5,618.25"/>
<polyline points="729,619.5 733.5,619.5"/>
<polyline points="729,620.75 733.5,620.75"/>
<polyline points="729,622 733.5,622"/>
<polyline points="729,623.25 733.5,623.25"/>
<polyline points="729,624.5 733.5,624.5"/>
<polyline points="729,625.75 733.5,625.75"/>
<polyline points="729,627 733.5,627"/>
<polyline points="729,628.25 733.5,628.25"/>
<polyline points="729,629.5 733.5,629.5"/>
<polyline points="729,630.75 733.5,630.75"/>
<polyline points="729,632 733.5,632"/>
<polyline points="729,633.25 733.5,633.25"/>
<rect x="773.3" y="607.3" width="12.5" height="24.5"/>
<rect x="763.5" y="612.7" width="14.08" height="11.6" rx="1.2"/>
<rect x="777.58" y="614.5" width="6.62" height="8"/>
<polyline points="777.58,615.5 784.2,615.5"/>
<polyline points="777.58,616.6 784.2,616.6"/>
<polyline points="777.58,617.7 784.2,617.7"/>
<polyline points="777.58,618.8 784.2,618.8"/>
<polyline points="777.58,619.9 784.2,619.9"/>
<polyline points="777.58,621 784.2,621"/>
<polyline points="777.58,622.1 784.2,622.1"/>
<polyline points="764.5,614.3 776.58,614.3"/>
<polyline points="764.5,622.7 776.58,622.7"/>
<rect x="665.2" y="577.7" width="20" height="25.8"/>
<rect x="666.4" y="566.7" width="17.6" height="9.7" rx="1"/>
<polyline points="665.2,584.7 668.2,581.2 671.2,581.7 672.7,577.7"/>
<rect x="685.2" y="564.3" width="10" height="9.2"/>
<rect x="665.2" y="604.3" width="11.6" height="26.7"/>
<rect x="672.5" y="611" width="13.8" height="13.3" rx="1.2"/>
<rect x="666" y="612.8" width="6.5" height="9.7"/>
<polyline points="666,613.8 672.5,613.8"/>
<polyline points="666,614.9 672.5,614.9"/>
<polyline points="666,616 672.5,616"/>
<polyline points="666,617.1 672.5,617.1"/>
<polyline points="666,618.2 672.5,618.2"/>
<polyline points="666,619.3 672.5,619.3"/>
<polyline points="666,620.4 672.5,620.4"/>
<polyline points="666,621.5 672.5,621.5"/>
<polyline points="673.5,612.6 685.3,612.6"/>
<polyline points="673.5,622.7 685.3,622.7"/>
<path d="M718.5 563.2L718.5 580A16.8 16.8 0 0 1 701.5 563.2"/>
<rect x="666.8" y="538.5" width="10" height="22.5"/>
<path d="M671.8 539.5V560M671.8 540.01L668.4 543.7L675.2 543.7ZM671.8 545.14L668.4 548.83L675.2 548.83ZM671.8 550.26L668.4 553.95L675.2 553.95ZM671.8 555.39L668.4 559.08L675.2 559.08Z"/>
<rect x="666.8" y="517.7" width="2.5" height="20"/>
<rect x="694.3" y="493.1" width="1.8" height="1.8" fill="#bbb"/>
<path d="M695.2 512.5L695.2 494A18.5 18.5 0 0 0 675.2 512.5"/>
<rect x="721.8" y="376.6" width="1.8" height="1.8" fill="#bbb"/>
<path d="M722.7 358.3L722.7 377.5A19.2 19.2 0 0 1 702.5 358.3"/>
<rect x="535.3" y="542.7" width="10.9" height="10.3"/>
<circle cx="538.35" cy="545.58" r="1.79"/>
<circle cx="543.15" cy="545.58" r="1.34"/>
<circle cx="538.35" cy="550.12" r="1.34"/>
<circle cx="543.15" cy="550.12" r="1.79"/>
<rect x="535.3" y="556" width="10.9" height="15"/>
<circle cx="540.75" cy="561" r="0.55" fill="#555" stroke="none"/>
<circle cx="540.75" cy="563.5" r="0.55" fill="#555" stroke="none"/>
<circle cx="540.75" cy="566" r="0.55" fill="#555" stroke="none"/>
<rect x="535.3" y="542.7" width="10.9" height="30"/>
<rect x="546" y="528" width="11" height="11.5"/>
<rect x="557" y="528" width="12" height="11.5"/>
<rect x="558.2" y="529.5" width="5.4" height="8.5" rx="1.2"/>
<polyline points="564.44,530.5 567.8,537"/>
<polyline points="567.8,530.5 564.44,537"/>
<circle cx="560.96" cy="533.75" r="0.8"/>
<rect x="534.5" y="572.7" width="24.2" height="12.5"/>
<circle cx="563.7" cy="578.8" r="4.3"/>
<circle cx="563.7" cy="578.8" r="3.2"/>
<circle cx="540.3" cy="590.2" r="4.3"/>
<circle cx="540.3" cy="590.2" r="3.2"/>
<circle cx="552.3" cy="590.2" r="4.3"/>
<circle cx="552.3" cy="590.2" r="3.2"/>
<path d="M554.5 600.2H537.3L535.3 602.4V628.8L537.3 631H554.5Z"/>
<polyline points="554.5,603.8 537.3,603.8 535.3,602.4"/>
<polyline points="554.5,627.4 537.3,627.4 535.3,628.8"/>
<polyline points="537.3,603.8 537.3,627.4"/>
<polyline points="535.3,615.6 554.5,615.6"/>
<rect x="571.7" y="600.2" width="11.8" height="15.8"/>
<path d="M592 598.5L601 608.5M601 598.5L592 608.5"/>
<path d="M596.5 637.3L614.5 637.3A18 18 0 0 0 596.5 619.5"/>
<rect x="598.5" y="571" width="60.8" height="10.8"/>
<path d="M599.5 576.4H658.3M600.09 576.4L601.95 572.8L603.81 576.4L601.95 580ZM604.99 576.4L606.85 572.8L608.71 576.4L606.85 580ZM609.89 576.4L611.75 572.8L613.61 576.4L611.75 580ZM614.79 576.4L616.65 572.8L618.51 576.4L616.65 580ZM619.69 576.4L621.55 572.8L623.41 576.4L621.55 580ZM624.59 576.4L626.45 572.8L628.31 576.4L626.45 580ZM629.49 576.4L631.35 572.8L633.21 576.4L631.35 580ZM634.39 576.4L636.25 572.8L638.11 576.4L636.25 580ZM639.29 576.4L641.15 572.8L643.01 576.4L641.15 580ZM644.19 576.4L646.05 572.8L647.91 576.4L646.05 580ZM649.09 576.4L650.95 572.8L652.81 576.4L650.95 580ZM653.99 576.4L655.85 572.8L657.71 576.4L655.85 580Z"/>
<rect x="619" y="594.3" width="26.2" height="32.5"/>
<rect x="645.2" y="595.3" width="10.8" height="30.5"/>
<rect x="646.7" y="596.8" width="7.8" height="13.15" rx="1"/>
<rect x="646.7" y="611.15" width="7.8" height="13.15" rx="1"/>
<polyline points="638.2,594.3 641.7,597.3 641,600.1 645.2,600.8"/>
<polyline points="641.7,597.3 643.7,598.5"/>
<rect x="649.3" y="584.3" width="10" height="10"/>
<rect x="649.3" y="626.8" width="10" height="10.9"/>
<rect x="625.2" y="553.5" width="34.1" height="14.2"/>
<rect x="626.5" y="554.8" width="31.5" height="11.6" rx="4.35"/>
<circle cx="653.3" cy="560.6" r="1.6"/>
<polyline points="655.9,560.6 658.3,560.6"/>
<rect x="613.3" y="555.2" width="11.2" height="11.6"/>
<circle cx="618.9" cy="561" r="4"/>
<circle cx="618.9" cy="561" r="2.5"/>
<rect x="631.8" y="530" width="8.5" height="2.3"/>
<path d="M632.6 532.3V536.75A3.45 3.65 0 0 0 639.5 536.75V532.3"/>
<rect x="648.5" y="540.2" width="10.2" height="13.3"/>
<rect x="649.9" y="541.6" width="7.4" height="10.5" rx="1.2"/>
<polyline points="657.3,546.85 653.6,546.85"/>
<circle cx="653.6" cy="546.85" r="0.7"/>
<path d="M611 538.7L594 538.7A17 17 0 0 0 611 554.3"/>
<rect x="616" y="527.7" width="5" height="6.6"/>
<rect x="587.4" y="492.4" width="1.8" height="1.8" fill="#bbb"/>
<path d="M588.3 512.5L588.3 493.3A19.2 19.2 0 0 1 607.8 512.5"/>
<rect x="572" y="518" width="11.5" height="21.5"/>
<polyline points="575,527.5 580.5,524.5 575,521.5 575,527.5"/>
<rect x="573.5" y="529.5" width="9" height="9"/>
<rect x="574.9" y="530.9" width="6.2" height="6.2" rx="1.2"/>
<polyline points="578,530.9 578,534"/>
<circle cx="578" cy="534" r="0.7"/>
<rect x="402.2" y="531.8" width="29.8" height="10.9"/>
<rect x="413" y="532.5" width="14" height="9.7"/>
<rect x="414.2" y="534" width="6.5" height="6.7" rx="1.2"/>
<polyline points="421.68,535 425.6,539.7"/>
<polyline points="425.6,535 421.68,539.7"/>
<circle cx="417.62" cy="537.35" r="0.8"/>
<rect x="402.8" y="556" width="11.2" height="12.5"/>
<circle cx="405.94" cy="559.5" r="1.95"/>
<circle cx="410.86" cy="559.5" r="1.46"/>
<circle cx="405.94" cy="565" r="1.46"/>
<circle cx="410.86" cy="565" r="1.95"/>
<rect x="402.8" y="542.7" width="11.2" height="13.3"/>
<rect x="404.3" y="543.9" width="8.2" height="6.11" rx="1.2"/>
<polyline points="405.3,550.95 411.5,554.67"/>
<polyline points="411.5,550.95 405.3,554.67"/>
<circle cx="408.4" cy="547.09" r="0.8"/>
<rect x="402.2" y="571.8" width="25" height="13.4"/>
<circle cx="407.7" cy="589.3" r="4.1"/>
<circle cx="407.7" cy="589.3" r="3"/>
<circle cx="419.7" cy="589.3" r="4.1"/>
<circle cx="419.7" cy="589.3" r="3"/>
<rect x="412.2" y="607.3" width="12.5" height="16.2"/>
<path d="M440.3 599.3H458.5L460.5 601.5V629.6L458.5 631.8H440.3Z"/>
<polyline points="440.3,602.9 458.5,602.9 460.5,601.5"/>
<polyline points="440.3,628.2 458.5,628.2 460.5,629.6"/>
<polyline points="458.5,602.9 458.5,628.2"/>
<polyline points="440.3,615.55 460.5,615.55"/>
<path d="M464.05 602.5L468.55 611.5M468.55 602.5L464.05 611.5"/>
<path d="M470.7 582.7L470.7 597.7A15 15 0 0 0 487 582.7"/>
<rect x="489.2" y="592.7" width="26.1" height="31.6"/>
<rect x="515.3" y="593.7" width="10.8" height="29.6"/>
<rect x="516.8" y="595.2" width="7.8" height="12.7" rx="1"/>
<rect x="516.8" y="609.1" width="7.8" height="12.7" rx="1"/>
<polyline points="508.3,624.3 511.8,621.3 511.1,618.5 515.3,617.8"/>
<polyline points="511.8,621.3 513.8,620.1"/>
<rect x="519.5" y="582.7" width="9.7" height="10"/>
<rect x="519.5" y="624.3" width="9.7" height="10.9"/>
<rect x="517.8" y="542.7" width="11.4" height="35.8"/>
<rect x="518" y="543" width="11" height="10"/>
<circle cx="521.08" cy="545.8" r="1.74"/>
<circle cx="525.92" cy="545.8" r="1.3"/>
<circle cx="521.08" cy="550.2" r="1.3"/>
<circle cx="525.92" cy="550.2" r="1.74"/>
<rect x="518" y="553" width="11" height="25.5"/>
<path d="M523.5 554V577.5M523.5 554.59L519.7 558.82L527.3 558.82ZM523.5 560.46L519.7 564.69L527.3 564.69ZM523.5 566.34L519.7 570.57L527.3 570.57ZM523.5 572.21L519.7 576.44L527.3 576.44Z"/>
<rect x="453.7" y="547.7" width="2.3" height="8.3"/>
<path d="M453.7 548.5H449.35A3.55 3.35 0 0 0 449.35 555.2H453.7"/>
<rect x="453" y="533" width="10" height="9"/>
<circle cx="458" cy="537.5" r="2.9"/>
<circle cx="458" cy="537.5" r="1.4"/>
<rect x="464.5" y="533" width="13.5" height="9"/>
<rect x="465.9" y="534.4" width="10.7" height="6.2" rx="1.2"/>
<polyline points="471.25,534.4 471.25,537.5"/>
<circle cx="471.25" cy="537.5" r="0.7"/>
<rect x="452" y="532.5" width="28" height="9.8"/>
<rect x="480" y="543.5" width="14.3" height="15"/>
<circle cx="487" cy="551" r="1.5"/>
<polyline points="489,551 492.5,551"/>
<rect x="485" y="517.5" width="10.5" height="22.7"/>
<polyline points="487,535 493.5,532 487,529 487,535"/>
<rect x="486" y="518.5" width="8.5" height="8.5"/>
<rect x="487.4" y="519.9" width="5.7" height="5.7" rx="1.2"/>
<polyline points="490.25,519.9 490.25,522.75"/>
<circle cx="490.25" cy="522.75" r="0.7"/>
<rect x="516.8" y="493.1" width="1.8" height="1.8" fill="#bbb"/>
<path d="M517.7 512.5L517.7 494A18.5 18.5 0 0 0 498.8 512.5"/>
<rect x="284" y="594.3" width="28.7" height="32.5"/>
<rect x="273.2" y="595.3" width="10.8" height="30.5"/>
<rect x="274.7" y="596.8" width="7.8" height="13.15" rx="1"/>
<rect x="274.7" y="611.15" width="7.8" height="13.15" rx="1"/>
<polyline points="291,594.3 287.5,597.3 288.2,600.1 284,600.8"/>
<polyline points="287.5,597.3 285.5,598.5"/>
<rect x="272.5" y="584" width="10" height="10.3"/>
<rect x="272.5" y="626.8" width="10" height="10.2"/>
<rect x="273" y="535" width="11" height="46"/>
<rect x="273.5" y="550" width="10.3" height="10"/>
<circle cx="278.65" cy="555" r="3.4"/>
<circle cx="278.65" cy="555" r="1.9"/>
<rect x="273.5" y="538" width="10.3" height="10"/>
<rect x="274.9" y="539.4" width="7.5" height="7.2" rx="1.2"/>
<polyline points="274.9,543 278.65,543"/>
<circle cx="278.65" cy="543" r="0.7"/>
<rect x="273.5" y="567" width="10.3" height="10"/>
<rect x="274.9" y="568.4" width="7.5" height="7.2" rx="1.2"/>
<polyline points="274.9,572 278.65,572"/>
<circle cx="278.65" cy="572" r="0.7"/>
<path d="M332 584L332 600A16 16 0 0 1 315.5 584"/>
<path d="M361.3 599.3H343.3L341.3 601.5V629.6L343.3 631.8H361.3Z"/>
<polyline points="361.3,602.9 343.3,602.9 341.3,601.5"/>
<polyline points="361.3,628.2 343.3,628.2 341.3,629.6"/>
<polyline points="343.3,602.9 343.3,628.2"/>
<polyline points="341.3,615.55 361.3,615.55"/>
<path d="M334.25 606L338.75 616M338.75 606L334.25 616"/>
<rect x="374.3" y="607.3" width="12" height="16.2"/>
<path d="M394.2 608.5L405.2 618.5M405.2 608.5L394.2 618.5"/>
<circle cx="378.8" cy="589.3" r="4.1"/>
<circle cx="378.8" cy="589.3" r="3"/>
<circle cx="390.5" cy="589.3" r="4.1"/>
<circle cx="390.5" cy="589.3" r="3"/>
<rect x="373" y="571.8" width="24.2" height="13.4"/>
<rect x="385.5" y="542.7" width="11.7" height="13.3"/>
<rect x="387" y="543.9" width="8.7" height="6.11" rx="1.2"/>
<polyline points="388,550.95 394.7,554.67"/>
<polyline points="394.7,550.95 388,554.67"/>
<circle cx="391.35" cy="547.09" r="0.8"/>
<rect x="385.5" y="556" width="11.7" height="12.5"/>
<circle cx="388.78" cy="559.5" r="2.03"/>
<circle cx="393.92" cy="559.5" r="1.53"/>
<circle cx="388.78" cy="565" r="1.53"/>
<circle cx="393.92" cy="565" r="2.03"/>
<rect x="385.5" y="542.7" width="11.7" height="28.3"/>
<rect x="363.8" y="531.8" width="11.7" height="10.9"/>
<circle cx="367.15" cy="537.25" r="0.55" fill="#555" stroke="none"/>
<circle cx="369.65" cy="537.25" r="0.55" fill="#555" stroke="none"/>
<circle cx="372.15" cy="537.25" r="0.55" fill="#555" stroke="none"/>
<rect x="375.5" y="531.8" width="3.5" height="10.9"/>
<rect x="379" y="532.3" width="13" height="10"/>
<rect x="380.2" y="533.8" width="5.95" height="7" rx="1.2"/>
<polyline points="387.06,534.8 390.7,539.8"/>
<polyline points="390.7,534.8 387.06,539.8"/>
<circle cx="383.29" cy="537.3" r="0.8"/>
<rect x="363.8" y="531.8" width="33.4" height="10.9"/>
<rect x="335.5" y="533.3" width="11.2" height="8.4"/>
<rect x="336.9" y="534.7" width="8.4" height="5.6" rx="1.2"/>
<polyline points="341.1,534.7 341.1,537.5"/>
<circle cx="341.1" cy="537.5" r="0.7"/>
<rect x="355.9" y="548.8" width="2.3" height="8.7"/>
<path d="M355.9 549.6H351.35A3.75 3.55 0 0 0 351.35 556.7H355.9"/>
<rect x="315" y="545.2" width="14.7" height="15"/>
<circle cx="321" cy="553" r="1.6"/>
<polyline points="323,553 326.5,553"/>
<rect x="299.4" y="492.4" width="1.8" height="1.8" fill="#bbb"/>
<path d="M300.3 512.5L300.3 493.3A19.2 19.2 0 0 1 320.5 512.5"/>
<rect x="319.8" y="527" width="2.4" height="11.3"/>
<rect x="144" y="527.5" width="11.7" height="36"/>
<rect x="145.3" y="528.8" width="9.1" height="33.4" rx="3.41"/>
<circle cx="149.85" cy="533.5" r="1.6"/>
<polyline points="149.85,530.9 149.85,528.5"/>
<rect x="161.3" y="531.8" width="8.7" height="2.3"/>
<path d="M162.1 534.1V536.85A3.55 3.75 0 0 0 169.2 536.85V534.1"/>
<rect x="187.7" y="536.8" width="12.1" height="8.4"/>
<rect x="189.1" y="538.2" width="9.3" height="5.6" rx="1.2"/>
<polyline points="193.75,538.2 193.75,541"/>
<circle cx="193.75" cy="541" r="0.7"/>
<rect x="192.3" y="516" width="11" height="15"/>
<rect x="193.3" y="521" width="9" height="9"/>
<rect x="194.7" y="522.4" width="6.2" height="6.2" rx="1.2"/>
<polyline points="197.8,522.4 197.8,525.5"/>
<circle cx="197.8" cy="525.5" r="0.7"/>
<path d="M204.8 546.5L220 546.5A15.2 15.2 0 0 1 204.8 561.8"/>
<rect x="144" y="568" width="42.5" height="9.3"/>
<path d="M145 572.65H185.5M145.61 572.65L147.53 569.6L149.45 572.65L147.53 575.7ZM150.67 572.65L152.59 569.6L154.52 572.65L152.59 575.7ZM155.73 572.65L157.66 569.6L159.58 572.65L157.66 575.7ZM160.79 572.65L162.72 569.6L164.64 572.65L162.72 575.7ZM165.86 572.65L167.78 569.6L169.7 572.65L167.78 575.7ZM170.92 572.65L172.84 569.6L174.77 572.65L172.84 575.7ZM175.98 572.65L177.91 569.6L179.83 572.65L177.91 575.7ZM181.04 572.65L182.97 569.6L184.89 572.65L182.97 575.7Z"/>
<rect x="190.5" y="567.8" width="11.2" height="9.7"/>
<circle cx="196.1" cy="572.65" r="3.25"/>
<circle cx="196.1" cy="572.65" r="1.75"/>
<rect x="155.7" y="594.3" width="26.3" height="32.5"/>
<rect x="144.9" y="595.3" width="10.8" height="30.5"/>
<rect x="146.4" y="596.8" width="7.8" height="13.15" rx="1"/>
<rect x="146.4" y="611.15" width="7.8" height="13.15" rx="1"/>
<polyline points="162.7,626.8 159.2,623.8 159.9,621 155.7,620.3"/>
<polyline points="159.2,623.8 157.2,622.6"/>
<rect x="142" y="584.3" width="9.5" height="10"/>
<rect x="142" y="626.8" width="9.5" height="10.2"/>
<path d="M199 601.5L208 611.5M208 601.5L199 611.5"/>
<path d="M204 637.3L222 637.3A18 18 0 0 0 204 619.5"/>
<circle cx="219.3" cy="611" r="7.5"/>
<circle cx="214" cy="582.7" r="8"/>
<rect x="219.8" y="578.5" width="11.7" height="9.4" rx="2"/>
<rect x="255.7" y="539.3" width="10.8" height="13.7"/>
<rect x="257.2" y="540.5" width="7.8" height="6.34" rx="1.2"/>
<polyline points="258.2,547.79 264,551.63"/>
<polyline points="264,547.79 258.2,551.63"/>
<circle cx="261.1" cy="543.82" r="0.8"/>
<rect x="255.7" y="553" width="10.8" height="10"/>
<circle cx="258.72" cy="555.8" r="1.74"/>
<circle cx="263.48" cy="555.8" r="1.3"/>
<circle cx="258.72" cy="560.2" r="1.3"/>
<circle cx="263.48" cy="560.2" r="1.74"/>
<rect x="255.7" y="566" width="10.8" height="11"/>
<circle cx="261.1" cy="571.5" r="3.8"/>
<circle cx="261.1" cy="571.5" r="2.3"/>
<rect x="255.7" y="539.3" width="10.8" height="43.4"/>
<rect x="236.5" y="528.5" width="11.5" height="10.8"/>
<circle cx="239.75" cy="533.9" r="0.55" fill="#555" stroke="none"/>
<circle cx="242.25" cy="533.9" r="0.55" fill="#555" stroke="none"/>
<circle cx="244.75" cy="533.9" r="0.55" fill="#555" stroke="none"/>
<rect x="236.5" y="528.5" width="20.8" height="10.8"/>
<path d="M246 591H263L265 593.2V629.6L263 631.8H246Z"/>
<polyline points="246,594.6 263,594.6 265,593.2"/>
<polyline points="246,628.2 263,628.2 265,629.6"/>
<polyline points="263,594.6 263,628.2"/>
<polyline points="246,611.4 265,611.4"/>
<polyline points="205.7,408.7 205.7,462" stroke="#999"/>
<polyline points="211.35,408.7 211.35,462" stroke="#999"/>
<polyline points="217,408.7 217,462" stroke="#999"/>
<polyline points="222.65,408.7 222.65,462" stroke="#999"/>
<polyline points="228.3,408.7 228.3,462" stroke="#999"/>
<polyline points="233.95,408.7 233.95,462" stroke="#999"/>
<polyline points="239.6,408.7 239.6,462" stroke="#999"/>
<polyline points="245.25,408.7 245.25,462" stroke="#999"/>
<polyline points="250.9,408.7 250.9,462" stroke="#999"/>
<polyline points="256.55,408.7 256.55,462" stroke="#999"/>
<rect x="204.8" y="433.2" width="58.4" height="4.6" fill="#fff" stroke="#111" stroke-width="0.8"/>
<polyline points="217,409 226.5,433"/>
<polyline points="219,421 225,419 221,425"/>
<polyline points="181,391.3 199,385.4 217.5,391 235.7,385.4 254.5,391.3" stroke="#777"/>
<circle cx="217.5" cy="391" r="0.9" fill="#000" stroke="none"/>
<polyline points="181.5,480 202.3,485.5 221.5,480.3 244,485.5 263.2,480.2" stroke="#777"/>
<circle cx="221.5" cy="480.3" r="0.9" fill="#000" stroke="none"/>
<path d="M288 426.5A18 18 0 0 0 277.3 460.3"/>
<path d="M289.5 447L277.3 460.3" stroke="#111" stroke-width="1"/>
<polyline points="616.8,408.7 616.8,462" stroke="#999"/>
<polyline points="622.47,408.7 622.47,462" stroke="#999"/>
<polyline points="628.14,408.7 628.14,462" stroke="#999"/>
<polyline points="633.81,408.7 633.81,462" stroke="#999"/>
<polyline points="639.48,408.7 639.48,462" stroke="#999"/>
<polyline points="645.15,408.7 645.15,462" stroke="#999"/>
<polyline points="650.82,408.7 650.82,462" stroke="#999"/>
<polyline points="656.49,408.7 656.49,462" stroke="#999"/>
<polyline points="662.16,408.7 662.16,462" stroke="#999"/>
<polyline points="667.83,408.7 667.83,462" stroke="#999"/>
<polyline points="673.5,408.7 673.5,462" stroke="#999"/>
<rect x="616" y="433.2" width="58.4" height="4.6" fill="#fff" stroke="#111" stroke-width="0.8"/>
<polyline points="650,409 661.5,433"/>
<polyline points="653,421 659,419 655,425"/>
<polyline points="624.5,391.3 642.7,385.4 661,391 680.2,385.4 698.5,391.3" stroke="#777"/>
<circle cx="661" cy="391" r="0.9" fill="#000" stroke="none"/>
<polyline points="617,480.2 637.7,485.5 656.8,480.3 677.7,485.5 698.5,480.2" stroke="#777"/>
<circle cx="656.8" cy="480.3" r="0.9" fill="#000" stroke="none"/>
<path d="M592 426.5A18 18 0 0 1 602 460.3"/>
<path d="M591.7 447L602 460.3" stroke="#111" stroke-width="1"/>
<polyline points="231.8,357.3 242.5,359.5 243,357.5 254.5,359.8 255,357.5 266.5,360" stroke="#777"/>
<circle cx="242.7" cy="357.6" r="0.9" fill="#000" stroke="none"/>
<circle cx="255" cy="357.6" r="0.9" fill="#000" stroke="none"/>
<polyline points="625.3,357 636,359.5 636.5,357.5 648,359.8 648.5,357.5 659.5,359.5" stroke="#777"/>
<circle cx="636.3" cy="357.6" r="0.9" fill="#000" stroke="none"/>
<circle cx="648.3" cy="357.6" r="0.9" fill="#000" stroke="none"/>
<polyline points="138.3,511.7 151.5,510 163.3,513.3"/>
<polyline points="274.8,508.3 294,513"/>
<polyline points="536.2,508.7 553,513"/>
<rect x="347.3" y="355.2" width="39" height="27.6" stroke="#444"/>
<path d="M347.3 355.2L386.3 382.8M386.3 355.2L347.3 382.8"/>
<rect x="410.5" y="355.3" width="39.2" height="27.7" stroke="#444"/>
<path d="M410.5 355.3L449.7 383M449.7 355.3L410.5 383"/>
<rect x="395.5" y="358.3" width="3.4" height="26" rx="1"/>
<rect x="459.3" y="358.3" width="3" height="26" rx="1"/>
<polyline points="352,384.5 372,384.5"/>
<polyline points="357,386 377,386"/>
<polyline points="415,384.5 435,384.5"/>
<polyline points="420,386 440,386"/>
<rect x="350.5" y="460.3" width="22.8" height="44.7" stroke="#444"/>
<path d="M350.5 460.3L373.3 505M373.3 460.3L350.5 505"/>
<rect x="352.2" y="510" width="19.8" height="3.7" rx="1"/>
<polyline points="352.5,458.6 368.5,458.6"/>
<polyline points="355.5,457.2 371.5,457.2"/>
<rect x="391.3" y="460.3" width="22.8" height="44.7" stroke="#444"/>
<path d="M391.3 460.3L414.1 505M414.1 460.3L391.3 505"/>
<rect x="393" y="510" width="19.8" height="3.7" rx="1"/>
<polyline points="393.3,458.6 409.3,458.6"/>
<polyline points="396.3,457.2 412.3,457.2"/>
<rect x="431.3" y="460.3" width="22.8" height="44.7" stroke="#444"/>
<path d="M431.3 460.3L454.1 505M454.1 460.3L431.3 505"/>
<rect x="433" y="510" width="19.8" height="3.7" rx="1"/>
<polyline points="433.3,458.6 449.3,458.6"/>
<polyline points="436.3,457.2 452.3,457.2"/>
<rect x="522.8" y="407.8" width="26.7" height="37.5" stroke="#444"/>
<path d="M522.8 407.8L549.5 445.3M549.5 407.8L522.8 445.3"/>
<rect x="526.2" y="395.7" width="18.3" height="3.8" rx="1"/>
<polyline points="520.8,412 520.8,432"/>
<polyline points="519.3,417 519.3,438"/>
<path d="M296 411A17 17 0 0 0 313.5 394.5"/>
<path d="M314.5 394.5A6.5 6.5 0 0 0 321.3 400.5"/>
<path d="M296 460A17 17 0 0 1 313.5 476.5"/>
<path d="M314.5 476.5A6.5 6.5 0 0 1 321.3 470.5"/>
<rect x="295.3" y="394" width="1.5" height="17"/>
<rect x="295.3" y="460" width="1.5" height="17"/>
<path d="M510 411.2A17 17 0 0 1 492 394.5"/>
<path d="M491 394.5A6.5 6.5 0 0 1 484.5 400.5"/>
<path d="M510 460A17 17 0 0 0 492 476.5"/>
<path d="M491 476.5A6.5 6.5 0 0 0 484.5 470.5"/>
<rect x="509.3" y="394" width="1.5" height="17"/>
<rect x="509.3" y="460" width="1.5" height="17"/>
<path d="M563 411.2A17 17 0 0 0 580.5 394.5"/>
<path d="M563 460A17 17 0 0 1 580.5 476.5"/>
<rect x="562" y="394" width="1.5" height="17"/>
<rect x="562" y="460" width="1.5" height="17"/>
<rect x="505.6" y="376.6" width="1.8" height="1.8" fill="#bbb"/>
<path d="M506.5 358.5L506.5 377.5A19 19 0 0 0 525 358.5"/></g>
<g fill="none" stroke="#4e4e4e" stroke-width="0.55"><path d="M423 233H406.7L404.7 235.2V271.8L406.7 274H423Z"/>
<polyline points="423,236.6 406.7,236.6 404.7,235.2"/>
<polyline points="423,270.4 406.7,270.4 404.7,271.8"/>
<polyline points="406.7,236.6 406.7,270.4"/>
<polyline points="404.7,253.5 423,253.5"/>
<circle cx="407.3" cy="281.5" r="4.3"/>
<circle cx="407.3" cy="281.5" r="3.2"/>
<circle cx="419.8" cy="281.5" r="4.3"/>
<circle cx="419.8" cy="281.5" r="3.2"/>
<circle cx="431" cy="291.5" r="3.9"/>
<circle cx="431" cy="291.5" r="2.8"/>
<rect x="404.7" y="287" width="22.3" height="11.5"/>
<rect x="404" y="300.5" width="10.7" height="10.5"/>
<circle cx="407" cy="303.44" r="1.83"/>
<circle cx="411.7" cy="303.44" r="1.37"/>
<circle cx="407" cy="308.06" r="1.37"/>
<circle cx="411.7" cy="308.06" r="1.83"/>
<rect x="404" y="311" width="10.7" height="14"/>
<rect x="405.5" y="312.2" width="7.7" height="6.5" rx="1.2"/>
<polyline points="406.5,319.68 412.2,323.6"/>
<polyline points="412.2,319.68 406.5,323.6"/>
<circle cx="409.35" cy="315.62" r="0.8"/>
<rect x="404" y="300.5" width="10.7" height="29.5"/>
<rect x="414.7" y="330" width="28.3" height="11.3"/>
<rect x="417" y="330" width="12" height="11.3"/>
<circle cx="420.5" cy="335.65" r="0.55" fill="#555" stroke="none"/>
<circle cx="423" cy="335.65" r="0.55" fill="#555" stroke="none"/>
<circle cx="425.5" cy="335.65" r="0.55" fill="#555" stroke="none"/>
<rect x="429" y="330.3" width="13" height="10.7"/>
<rect x="430.2" y="331.8" width="5.95" height="7.7" rx="1.2"/>
<polyline points="437.06,332.8 440.7,338.5"/>
<polyline points="440.7,332.8 437.06,338.5"/>
<circle cx="433.29" cy="335.65" r="0.8"/>
<rect x="437.3" y="245" width="12.5" height="16.3"/>
<path d="M457.5 249.5L467.5 259.5M467.5 249.5L457.5 259.5"/>
<rect x="464" y="226" width="12" height="10"/>
<rect x="465.2" y="227.5" width="5.4" height="7" rx="1.2"/>
<polyline points="471.44,228.5 474.8,233.5"/>
<polyline points="474.8,228.5 471.44,233.5"/>
<circle cx="467.96" cy="231" r="0.8"/>
<rect x="464" y="236" width="12" height="9"/>
<circle cx="467.36" cy="238.52" r="1.57"/>
<circle cx="472.64" cy="238.52" r="1.17"/>
<circle cx="467.36" cy="242.48" r="1.17"/>
<circle cx="472.64" cy="242.48" r="1.57"/>
<path d="M470.7 285.5L470.7 269.7A15.8 15.8 0 0 1 486.5 285.5"/>
<rect x="489.2" y="241.3" width="26.1" height="32"/>
<rect x="515.3" y="242.3" width="10.8" height="30"/>
<rect x="516.8" y="243.8" width="7.8" height="12.9" rx="1"/>
<rect x="516.8" y="257.9" width="7.8" height="12.9" rx="1"/>
<polyline points="508.3,241.3 511.8,244.3 511.1,247.1 515.3,247.8"/>
<polyline points="511.8,244.3 513.8,245.5"/>
<rect x="519.5" y="230.5" width="9.5" height="10.8"/>
<rect x="519.5" y="273.3" width="9.5" height="10.5"/>
<rect x="520.3" y="288.8" width="8.9" height="40"/>
<path d="M521.2 290.8L528.2 326.8M528.2 290.8L521.2 326.8"/>
<rect x="449.5" y="312" width="10" height="2.3"/>
<path d="M450.3 314.3V318A4.2 4.4 0 0 0 458.7 318V314.3"/>
<rect x="453" y="330" width="27" height="11"/>
<rect x="456" y="331" width="11" height="9.5"/>
<rect x="457.4" y="332.4" width="8.2" height="6.7" rx="1.2"/>
<polyline points="461.5,332.4 461.5,335.75"/>
<circle cx="461.5" cy="335.75" r="0.7"/>
<rect x="468.5" y="331" width="10.5" height="9.8"/>
<circle cx="473.75" cy="335.9" r="3.3"/>
<circle cx="473.75" cy="335.9" r="1.8"/>
<rect x="482.8" y="311" width="15" height="14.3"/>
<circle cx="490" cy="318" r="1.5"/>
<polyline points="492,318 495.5,318"/>
<rect x="489.5" y="330.5" width="10" height="10.8"/>
<circle cx="494.5" cy="335.9" r="3.4"/>
<circle cx="494.5" cy="335.9" r="1.9"/>
<rect x="524.8" y="328.8" width="3.2" height="23.7"/>
<polyline points="499.8,329 499.8,342"/></g>
<g><path fill="none" stroke="#5a5a5a" stroke-width="0.8" d="M22 216.5H842M22 648.6H842M4.7 235V629.5M859.3 235V629.5"/>
<polygon fill="#fff" stroke="#111" stroke-width="0.9" points="0.6,212.4 22,212.4 22,217 5.2,217 5.2,235.4 0.6,235.4"/>
<polygon fill="#fff" stroke="#111" stroke-width="0.9" points="0.6,652.7 22,652.7 22,647.6 5.2,647.6 5.2,629.2 0.6,629.2"/>
<polygon fill="#fff" stroke="#111" stroke-width="0.9" points="863.4,212.4 842,212.4 842,217 858.8,217 858.8,235.4 863.4,235.4"/>
<polygon fill="#fff" stroke="#111" stroke-width="0.9" points="863.4,652.7 842,652.7 842,647.6 858.8,647.6 858.8,629.2 863.4,629.2"/>
<rect fill="#fff" stroke="#111" stroke-width="0.9" x="66.9" y="212.4" width="19.6" height="4.4"/>
<path fill="none" stroke="#555" stroke-width="0.6" d="M87.1 219.6H98.7"/>
<rect fill="#222" x="98.1" y="215.9" width="1.2" height="4.2"/>
<rect fill="#333" x="86.8" y="216.5" width="1" height="3.6"/>
<rect fill="#fff" stroke="#111" stroke-width="0.9" x="66.9" y="648" width="19.6" height="4.6"/>
<path fill="none" stroke="#555" stroke-width="0.6" d="M66.3 645.5H54.7"/>
<rect fill="#222" x="54.1" y="645" width="1.2" height="4.2"/>
<rect fill="#333" x="65.6" y="645" width="1" height="3.6"/>
<rect fill="#fff" stroke="#111" stroke-width="0.9" x="131.5" y="212.4" width="19.6" height="4.4"/>
<path fill="none" stroke="#555" stroke-width="0.6" d="M151.7 219.6H163.3"/>
<rect fill="#222" x="162.7" y="215.9" width="1.2" height="4.2"/>
<rect fill="#333" x="151.4" y="216.5" width="1" height="3.6"/>
<rect fill="#fff" stroke="#111" stroke-width="0.9" x="131.5" y="648" width="19.6" height="4.6"/>
<path fill="none" stroke="#555" stroke-width="0.6" d="M130.9 645.5H119.3"/>
<rect fill="#222" x="118.7" y="645" width="1.2" height="4.2"/>
<rect fill="#333" x="130.2" y="645" width="1" height="3.6"/>
<rect fill="#fff" stroke="#111" stroke-width="0.9" x="196.1" y="212.4" width="19.6" height="4.4"/>
<path fill="none" stroke="#555" stroke-width="0.6" d="M216.3 219.6H227.9"/>
<rect fill="#222" x="227.3" y="215.9" width="1.2" height="4.2"/>
<rect fill="#333" x="216" y="216.5" width="1" height="3.6"/>
<rect fill="#fff" stroke="#111" stroke-width="0.9" x="196.1" y="648" width="19.6" height="4.6"/>
<path fill="none" stroke="#555" stroke-width="0.6" d="M195.5 645.5H183.9"/>
<rect fill="#222" x="183.3" y="645" width="1.2" height="4.2"/>
<rect fill="#333" x="194.8" y="645" width="1" height="3.6"/>
<rect fill="#fff" stroke="#111" stroke-width="0.9" x="260.7" y="212.4" width="19.6" height="4.4"/>
<path fill="none" stroke="#555" stroke-width="0.6" d="M280.9 219.6H292.5"/>
<rect fill="#222" x="291.9" y="215.9" width="1.2" height="4.2"/>
<rect fill="#333" x="280.6" y="216.5" width="1" height="3.6"/>
<rect fill="#fff" stroke="#111" stroke-width="0.9" x="260.7" y="648" width="19.6" height="4.6"/>
<path fill="none" stroke="#555" stroke-width="0.6" d="M260.1 645.5H248.5"/>
<rect fill="#222" x="247.9" y="645" width="1.2" height="4.2"/>
<rect fill="#333" x="259.4" y="645" width="1" height="3.6"/>
<rect fill="#fff" stroke="#111" stroke-width="0.9" x="325.3" y="212.4" width="19.6" height="4.4"/>
<path fill="none" stroke="#555" stroke-width="0.6" d="M345.5 219.6H357.1"/>
<rect fill="#222" x="356.5" y="215.9" width="1.2" height="4.2"/>
<rect fill="#333" x="345.2" y="216.5" width="1" height="3.6"/>
<rect fill="#fff" stroke="#111" stroke-width="0.9" x="325.3" y="648" width="19.6" height="4.6"/>
<path fill="none" stroke="#555" stroke-width="0.6" d="M324.7 645.5H313.1"/>
<rect fill="#222" x="312.5" y="645" width="1.2" height="4.2"/>
<rect fill="#333" x="324" y="645" width="1" height="3.6"/>
<rect fill="#fff" stroke="#111" stroke-width="0.9" x="389.9" y="212.4" width="19.6" height="4.4"/>
<path fill="none" stroke="#555" stroke-width="0.6" d="M410.1 219.6H421.7"/>
<rect fill="#222" x="421.1" y="215.9" width="1.2" height="4.2"/>
<rect fill="#333" x="409.8" y="216.5" width="1" height="3.6"/>
<rect fill="#fff" stroke="#111" stroke-width="0.9" x="389.9" y="648" width="19.6" height="4.6"/>
<path fill="none" stroke="#555" stroke-width="0.6" d="M389.3 645.5H377.7"/>
<rect fill="#222" x="377.1" y="645" width="1.2" height="4.2"/>
<rect fill="#333" x="388.6" y="645" width="1" height="3.6"/>
<rect fill="#fff" stroke="#111" stroke-width="0.9" x="454.5" y="212.4" width="19.6" height="4.4"/>
<path fill="none" stroke="#555" stroke-width="0.6" d="M474.7 219.6H486.3"/>
<rect fill="#222" x="485.7" y="215.9" width="1.2" height="4.2"/>
<rect fill="#333" x="474.4" y="216.5" width="1" height="3.6"/>
<rect fill="#fff" stroke="#111" stroke-width="0.9" x="454.5" y="648" width="19.6" height="4.6"/>
<path fill="none" stroke="#555" stroke-width="0.6" d="M453.9 645.5H442.3"/>
<rect fill="#222" x="441.7" y="645" width="1.2" height="4.2"/>
<rect fill="#333" x="453.2" y="645" width="1" height="3.6"/>
<rect fill="#fff" stroke="#111" stroke-width="0.9" x="519.1" y="212.4" width="19.6" height="4.4"/>
<path fill="none" stroke="#555" stroke-width="0.6" d="M539.3 219.6H550.9"/>
<rect fill="#222" x="550.3" y="215.9" width="1.2" height="4.2"/>
<rect fill="#333" x="539" y="216.5" width="1" height="3.6"/>
<rect fill="#fff" stroke="#111" stroke-width="0.9" x="519.1" y="648" width="19.6" height="4.6"/>
<path fill="none" stroke="#555" stroke-width="0.6" d="M518.5 645.5H506.9"/>
<rect fill="#222" x="506.3" y="645" width="1.2" height="4.2"/>
<rect fill="#333" x="517.8" y="645" width="1" height="3.6"/>
<rect fill="#fff" stroke="#111" stroke-width="0.9" x="583.7" y="212.4" width="19.6" height="4.4"/>
<path fill="none" stroke="#555" stroke-width="0.6" d="M603.9 219.6H615.5"/>
<rect fill="#222" x="614.9" y="215.9" width="1.2" height="4.2"/>
<rect fill="#333" x="603.6" y="216.5" width="1" height="3.6"/>
<rect fill="#fff" stroke="#111" stroke-width="0.9" x="583.7" y="648" width="19.6" height="4.6"/>
<path fill="none" stroke="#555" stroke-width="0.6" d="M583.1 645.5H571.5"/>
<rect fill="#222" x="570.9" y="645" width="1.2" height="4.2"/>
<rect fill="#333" x="582.4" y="645" width="1" height="3.6"/>
<rect fill="#fff" stroke="#111" stroke-width="0.9" x="648.3" y="212.4" width="19.6" height="4.4"/>
<path fill="none" stroke="#555" stroke-width="0.6" d="M668.5 219.6H680.1"/>
<rect fill="#222" x="679.5" y="215.9" width="1.2" height="4.2"/>
<rect fill="#333" x="668.2" y="216.5" width="1" height="3.6"/>
<rect fill="#fff" stroke="#111" stroke-width="0.9" x="648.3" y="648" width="19.6" height="4.6"/>
<path fill="none" stroke="#555" stroke-width="0.6" d="M647.7 645.5H636.1"/>
<rect fill="#222" x="635.5" y="645" width="1.2" height="4.2"/>
<rect fill="#333" x="647" y="645" width="1" height="3.6"/>
<rect fill="#fff" stroke="#111" stroke-width="0.9" x="712.9" y="212.4" width="19.6" height="4.4"/>
<path fill="none" stroke="#555" stroke-width="0.6" d="M733.1 219.6H744.7"/>
<rect fill="#222" x="744.1" y="215.9" width="1.2" height="4.2"/>
<rect fill="#333" x="732.8" y="216.5" width="1" height="3.6"/>
<rect fill="#fff" stroke="#111" stroke-width="0.9" x="712.9" y="648" width="19.6" height="4.6"/>
<path fill="none" stroke="#555" stroke-width="0.6" d="M712.3 645.5H700.7"/>
<rect fill="#222" x="700.1" y="645" width="1.2" height="4.2"/>
<rect fill="#333" x="711.6" y="645" width="1" height="3.6"/>
<rect fill="#fff" stroke="#111" stroke-width="0.9" x="777.5" y="212.4" width="19.6" height="4.4"/>
<path fill="none" stroke="#555" stroke-width="0.6" d="M797.7 219.6H809.3"/>
<rect fill="#222" x="808.7" y="215.9" width="1.2" height="4.2"/>
<rect fill="#333" x="797.4" y="216.5" width="1" height="3.6"/>
<rect fill="#fff" stroke="#111" stroke-width="0.9" x="777.5" y="648" width="19.6" height="4.6"/>
<path fill="none" stroke="#555" stroke-width="0.6" d="M776.9 645.5H765.3"/>
<rect fill="#222" x="764.7" y="645" width="1.2" height="4.2"/>
<rect fill="#333" x="776.2" y="645" width="1" height="3.6"/>
<path fill="none" stroke="#555" stroke-width="0.6" d="M22 219.6H34"/>
<rect fill="#222" x="33.5" y="215.9" width="1.2" height="4.2"/>
<path fill="none" stroke="#555" stroke-width="0.6" d="M842 645.5H830"/>
<rect fill="#222" x="829.3" y="645" width="1.2" height="4.2"/>
<rect fill="#fff" stroke="#111" stroke-width="0.9" x="0.5" y="291.5" width="4.4" height="20.4"/>
<path fill="none" stroke="#555" stroke-width="0.6" d="M7.8 291.5V280.2"/>
<rect fill="#222" x="4.2" y="279.7" width="4.2" height="1.2"/>
<rect fill="#fff" stroke="#111" stroke-width="0.9" x="859.1" y="291.5" width="4.4" height="20.4"/>
<path fill="none" stroke="#555" stroke-width="0.6" d="M856.2 311.9V323.2"/>
<rect fill="#222" x="855.6" y="322.5" width="4.2" height="1.2"/>
<rect fill="#fff" stroke="#111" stroke-width="0.9" x="0.5" y="356.8" width="4.4" height="20.4"/>
<path fill="none" stroke="#555" stroke-width="0.6" d="M7.8 356.8V345.5"/>
<rect fill="#222" x="4.2" y="345" width="4.2" height="1.2"/>
<rect fill="#fff" stroke="#111" stroke-width="0.9" x="859.1" y="356.8" width="4.4" height="20.4"/>
<path fill="none" stroke="#555" stroke-width="0.6" d="M856.2 377.2V388.5"/>
<rect fill="#222" x="855.6" y="387.8" width="4.2" height="1.2"/>
<rect fill="#fff" stroke="#111" stroke-width="0.9" x="0.5" y="422.1" width="4.4" height="20.4"/>
<path fill="none" stroke="#555" stroke-width="0.6" d="M7.8 422.1V410.8"/>
<rect fill="#222" x="4.2" y="410.3" width="4.2" height="1.2"/>
<rect fill="#fff" stroke="#111" stroke-width="0.9" x="859.1" y="422.1" width="4.4" height="20.4"/>
<path fill="none" stroke="#555" stroke-width="0.6" d="M856.2 442.5V453.8"/>
<rect fill="#222" x="855.6" y="453.1" width="4.2" height="1.2"/>
<rect fill="#fff" stroke="#111" stroke-width="0.9" x="0.5" y="487.4" width="4.4" height="20.4"/>
<path fill="none" stroke="#555" stroke-width="0.6" d="M7.8 487.4V476.1"/>
<rect fill="#222" x="4.2" y="475.6" width="4.2" height="1.2"/>
<rect fill="#fff" stroke="#111" stroke-width="0.9" x="859.1" y="487.4" width="4.4" height="20.4"/>
<path fill="none" stroke="#555" stroke-width="0.6" d="M856.2 507.8V519.1"/>
<rect fill="#222" x="855.6" y="518.4" width="4.2" height="1.2"/>
<rect fill="#fff" stroke="#111" stroke-width="0.9" x="0.5" y="553" width="4.4" height="20.4"/>
<path fill="none" stroke="#555" stroke-width="0.6" d="M7.8 553V541.7"/>
<rect fill="#222" x="4.2" y="541.2" width="4.2" height="1.2"/>
<rect fill="#fff" stroke="#111" stroke-width="0.9" x="859.1" y="553" width="4.4" height="20.4"/>
<path fill="none" stroke="#555" stroke-width="0.6" d="M856.2 573.4V584.7"/>
<rect fill="#222" x="855.6" y="584" width="4.2" height="1.2"/>
<path fill="none" stroke="#555" stroke-width="0.6" d="M7.8 628.5V617"/>
<rect fill="#222" x="4.2" y="616.5" width="4.2" height="1.2"/>
<path fill="none" stroke="#555" stroke-width="0.6" d="M856.2 235.5V247"/>
<rect fill="#222" x="855.6" y="246.4" width="4.2" height="1.2"/></g>
<g fill="#000"><polygon points="5.2,217 22,217 22,224.2 12.2,224.2 12.2,235.2 5.2,235.2"/>
<polygon points="5.2,647.6 22,647.6 22,640.4 12.2,640.4 12.2,629.4 5.2,629.4"/>
<polygon points="858.8,217 842,217 842,224.2 851.8,224.2 851.8,235.2 858.8,235.2"/>
<polygon points="858.8,647.6 842,647.6 842,640.4 851.8,640.4 851.8,629.4 858.8,629.4"/>
<polygon points="67,216.8 86.4,216.8 86.2,222.3 84.9,226 68.5,226 67.2,222.3"/>
<polygon points="67,647.8 86.4,647.8 86.2,642.3 84.9,638.6 68.5,638.6 67.2,642.3"/>
<polygon points="131.6,216.8 151,216.8 150.8,222.3 149.5,226 133.1,226 131.8,222.3"/>
<polygon points="131.6,647.8 151,647.8 150.8,642.3 149.5,638.6 133.1,638.6 131.8,642.3"/>
<polygon points="196.2,216.8 215.6,216.8 215.4,222.3 214.1,226 197.7,226 196.4,222.3"/>
<polygon points="196.2,647.8 215.6,647.8 215.4,642.3 214.1,638.6 197.7,638.6 196.4,642.3"/>
<polygon points="260.8,216.8 280.2,216.8 280,222.3 278.7,226 262.3,226 261,222.3"/>
<polygon points="260.8,647.8 280.2,647.8 280,642.3 278.7,638.6 262.3,638.6 261,642.3"/>
<polygon points="325.4,216.8 344.8,216.8 344.6,222.3 343.3,226 326.9,226 325.6,222.3"/>
<polygon points="325.4,647.8 344.8,647.8 344.6,642.3 343.3,638.6 326.9,638.6 325.6,642.3"/>
<polygon points="390,216.8 409.4,216.8 409.2,222.3 407.9,226 391.5,226 390.2,222.3"/>
<polygon points="390,647.8 409.4,647.8 409.2,642.3 407.9,638.6 391.5,638.6 390.2,642.3"/>
<polygon points="454.6,216.8 474,216.8 473.8,222.3 472.5,226 456.1,226 454.8,222.3"/>
<polygon points="454.6,647.8 474,647.8 473.8,642.3 472.5,638.6 456.1,638.6 454.8,642.3"/>
<polygon points="519.2,216.8 538.6,216.8 538.4,222.3 537.1,226 520.7,226 519.4,222.3"/>
<polygon points="519.2,647.8 538.6,647.8 538.4,642.3 537.1,638.6 520.7,638.6 519.4,642.3"/>
<polygon points="583.8,216.8 603.2,216.8 603,222.3 601.7,226 585.3,226 584,222.3"/>
<polygon points="583.8,647.8 603.2,647.8 603,642.3 601.7,638.6 585.3,638.6 584,642.3"/>
<polygon points="648.4,216.8 667.8,216.8 667.6,222.3 666.3,226 649.9,226 648.6,222.3"/>
<polygon points="648.4,647.8 667.8,647.8 667.6,642.3 666.3,638.6 649.9,638.6 648.6,642.3"/>
<polygon points="713,216.8 732.4,216.8 732.2,222.3 730.9,226 714.5,226 713.2,222.3"/>
<polygon points="713,647.8 732.4,647.8 732.2,642.3 730.9,638.6 714.5,638.6 713.2,642.3"/>
<polygon points="777.6,216.8 797,216.8 796.8,222.3 795.5,226 779.1,226 777.8,222.3"/>
<polygon points="777.6,647.8 797,647.8 796.8,642.3 795.5,638.6 779.1,638.6 777.8,642.3"/>
<polygon points="4.9,291.9 4.9,311.5 10.3,311.2 14,309.8 14,293.6 10.3,292.2"/>
<polygon points="859.1,291.9 859.1,311.5 853.7,311.2 850,309.8 850,293.6 853.7,292.2"/>
<polygon points="4.9,357.2 4.9,376.8 10.3,376.5 14,375.1 14,358.9 10.3,357.5"/>
<polygon points="859.1,357.2 859.1,376.8 853.7,376.5 850,375.1 850,358.9 853.7,357.5"/>
<polygon points="4.9,422.5 4.9,442.1 10.3,441.8 14,440.4 14,424.2 10.3,422.8"/>
<polygon points="859.1,422.5 859.1,442.1 853.7,441.8 850,440.4 850,424.2 853.7,422.8"/>
<polygon points="4.9,487.8 4.9,507.4 10.3,507.1 14,505.7 14,489.5 10.3,488.1"/>
<polygon points="859.1,487.8 859.1,507.4 853.7,507.1 850,505.7 850,489.5 853.7,488.1"/>
<polygon points="4.9,553.4 4.9,573 10.3,572.7 14,571.3 14,555.1 10.3,553.7"/>
<polygon points="859.1,553.4 859.1,573 853.7,572.7 850,571.3 850,555.1 853.7,553.7"/>
<rect x="71.7" y="246" width="2.3" height="72.3"/>
<rect x="71.7" y="337" width="2.3" height="30.8"/>
<rect x="66.45" y="355.95" width="5.4" height="6.2" fill="#fff" stroke="#000" stroke-width="1.3"/>
<rect x="13.5" y="361.7" width="59.5" height="3.3"/>
<rect x="73.3" y="303.3" width="25" height="1.4"/>
<rect x="73.3" y="317.4" width="25" height="0.9"/>
<rect x="97.6" y="291.3" width="2.7" height="67"/>
<rect x="97.6" y="291.3" width="5.1" height="2.1"/>
<rect x="119" y="291.4" width="18.5" height="2"/>
<rect x="98" y="343.8" width="31.2" height="3.7"/>
<rect x="128.65" y="348.95" width="8.2" height="6.2" fill="#fff" stroke="#000" stroke-width="1.3"/>
<rect x="137.2" y="225" width="4.8" height="130.8"/>
<rect x="134.2" y="353.3" width="4.1" height="8.4"/>
<rect x="142" y="343.8" width="26.3" height="4.5"/>
<rect x="165.8" y="343.8" width="3.4" height="14.2"/>
<rect x="138.3" y="353.3" width="38.2" height="4.7"/>
<rect x="173.3" y="331.7" width="2.6" height="26.3"/>
<rect x="202.3" y="225.5" width="2.5" height="45.8"/>
<rect x="202.3" y="289.7" width="2.5" height="18.3"/>
<rect x="202.3" y="291.3" width="18.4" height="2.9"/>
<rect x="218.2" y="291.3" width="2.5" height="13.4"/>
<rect x="218.2" y="302.7" width="49.8" height="2.3"/>
<rect x="202.3" y="325.5" width="2.5" height="6.2"/>
<rect x="202" y="329.2" width="15.5" height="2.8"/>
<rect x="214.7" y="329.2" width="2.8" height="15"/>
<rect x="217.3" y="335" width="17.5" height="1.6"/>
<rect x="200.8" y="343.8" width="66.5" height="4.4"/>
<rect x="200" y="343.8" width="5" height="14.4"/>
<rect x="200" y="353.4" width="31.8" height="4.8"/>
<rect x="229.6" y="343.8" width="2.2" height="14.4"/>
<rect x="266.8" y="225.5" width="5.2" height="132"/>
<rect x="272.65" y="345.65" width="5.4" height="7" fill="#fff" stroke="#000" stroke-width="1.3"/>
<rect x="266.5" y="353.3" width="17.5" height="4.7"/>
<rect x="272" y="285.5" width="41.8" height="2.4"/>
<rect x="332.2" y="285.5" width="7.8" height="2.5"/>
<rect x="337.5" y="225.5" width="2.5" height="62.5"/>
<rect x="307" y="308" width="19.3" height="2.5"/>
<rect x="341.3" y="308" width="15" height="2.5"/>
<rect x="307" y="308" width="2.8" height="37.8"/>
<rect x="353.7" y="308" width="2.8" height="33.3"/>
<rect x="348.15" y="333.85" width="5.2" height="6.8" fill="#fff" stroke="#000" stroke-width="1.3"/>
<rect x="307" y="341.1" width="174.5" height="5.1"/>
<rect x="306.5" y="353.3" width="18.3" height="5"/>
<rect x="324" y="345.8" width="2.5" height="47.7"/>
<rect x="397.2" y="225.5" width="5" height="116.2"/>
<rect x="402.85" y="329.85" width="5.3" height="11.2" fill="#fff" stroke="#000" stroke-width="1.3"/>
<rect x="336.5" y="348.5" width="132.3" height="4.8"/>
<rect x="336.5" y="348.5" width="5" height="45"/>
<rect x="463.8" y="348.5" width="5" height="45"/>
<rect x="322.3" y="389" width="26.7" height="4.7"/>
<rect x="375.5" y="389" width="37" height="4.7"/>
<rect x="438.8" y="389" width="43.4" height="4.7"/>
<rect x="479.3" y="345.8" width="2.4" height="47.7"/>
<rect x="461.2" y="225.5" width="2.5" height="62.5"/>
<rect x="461.2" y="285.5" width="7.8" height="2.8"/>
<rect x="487.5" y="285.5" width="42" height="2.8"/>
<rect x="443.2" y="308.4" width="23" height="2.6"/>
<rect x="481.7" y="308.4" width="18.8" height="2.6"/>
<rect x="443.2" y="308" width="2.6" height="33.5"/>
<rect x="486" y="326.2" width="14.7" height="2.8"/>
<rect x="498.3" y="308" width="2.7" height="20.8"/>
<rect x="486.2" y="328" width="2.3" height="13.7"/>
<rect x="481.7" y="310.5" width="1.2" height="24.5"/>
<rect x="481.85" y="334.95" width="5.3" height="6.1" fill="#fff" stroke="#000" stroke-width="1.3"/>
<path fill-rule="evenodd" d="M479.3 341.7H498.8V358.7H479.3ZM483.3 349.2V355.8H494.7V349.2Z"/>
<rect x="494.7" y="352.5" width="7.5" height="6.2"/>
<rect x="529" y="225.5" width="5" height="130.3"/>
<rect x="534.65" y="345.65" width="5.4" height="7" fill="#fff" stroke="#000" stroke-width="1.3"/>
<rect x="525.3" y="353.3" width="45" height="5"/>
<rect x="566.7" y="341.7" width="2" height="11.6"/>
<rect x="594.3" y="246" width="2.9" height="60.3"/>
<rect x="597" y="287.7" width="15.5" height="2.8"/>
<rect x="610.2" y="287.7" width="2.5" height="14.5"/>
<rect x="610.2" y="299.3" width="49.8" height="2.9"/>
<rect x="594.3" y="322.5" width="2.9" height="4.5"/>
<rect x="594.3" y="324" width="14.7" height="3"/>
<rect x="606.5" y="324" width="2.7" height="20"/>
<rect x="609.3" y="340.6" width="36.7" height="1.1"/>
<rect x="645.6" y="335" width="1.6" height="8.5"/>
<rect x="653.15" y="335.85" width="5.7" height="7" fill="#fff" stroke="#000" stroke-width="1.3"/>
<rect x="594.3" y="343.3" width="83.4" height="5"/>
<rect x="593.7" y="343.3" width="5" height="15"/>
<rect x="593.7" y="355.8" width="31.6" height="2.5"/>
<rect x="616.7" y="348" width="2.3" height="10"/>
<rect x="659.5" y="355.6" width="18.5" height="2.7"/>
<rect x="659.3" y="225.5" width="5" height="124"/>
<rect x="664" y="304.3" width="37" height="2.4"/>
<rect x="692.7" y="306.3" width="2.5" height="10.9"/>
<rect x="692.7" y="338.5" width="3" height="14.8"/>
<rect x="673.5" y="343.3" width="4.5" height="15"/>
<rect x="673.5" y="353.3" width="28.3" height="5"/>
<rect x="723.7" y="225.5" width="2.6" height="81"/>
<rect x="720" y="304.2" width="11.3" height="2.5"/>
<rect x="748.7" y="304.2" width="40" height="2.5"/>
<rect x="786.2" y="225.5" width="2.5" height="81.2"/>
<rect x="726.8" y="329.2" width="19.2" height="2.8"/>
<rect x="761.8" y="329.2" width="20.2" height="2.8"/>
<rect x="779.3" y="329.2" width="2.9" height="40.8"/>
<rect x="774.15" y="348.95" width="4.9" height="5.7" fill="#fff" stroke="#000" stroke-width="1.3"/>
<rect x="727.3" y="329.2" width="3.3" height="28.8"/>
<rect x="725.8" y="353.5" width="4.7" height="184.8"/>
<rect x="726.8" y="368" width="103.2" height="2.6"/>
<rect x="767.9" y="370.6" width="3.1" height="23.1"/>
<rect x="767.9" y="410.3" width="3.1" height="48.4"/>
<rect x="767.9" y="476.2" width="3.1" height="25.5"/>
<rect x="730" y="433.3" width="121" height="4"/>
<rect x="730.95" y="427.65" width="4.4" height="5.2" fill="#fff" stroke="#000" stroke-width="1.3"/>
<rect x="730.95" y="437.95" width="4.4" height="8.4" fill="#fff" stroke="#000" stroke-width="1.3"/>
<rect x="698.5" y="390" width="28.3" height="5"/>
<rect x="698.5" y="476.2" width="28.3" height="5"/>
<rect x="111" y="389.6" width="69.8" height="5.6"/>
<rect x="71.7" y="390" width="23.3" height="2.8"/>
<rect x="71.7" y="386" width="2.5" height="6"/>
<rect x="122.9" y="392" width="4.5" height="87"/>
<rect x="175.8" y="390" width="5" height="91.2"/>
<rect x="180.8" y="404" width="114" height="4.7"/>
<rect x="180.8" y="462" width="114" height="5"/>
<rect x="254" y="390" width="40.8" height="2"/>
<rect x="254.8" y="390" width="2.5" height="14"/>
<rect x="289" y="390" width="5.8" height="34.5"/>
<rect x="289" y="447" width="5.8" height="34.2"/>
<rect x="262.3" y="478.5" width="31.7" height="2.3"/>
<rect x="263.2" y="467" width="2.1" height="13.3"/>
<rect x="111" y="476.1" width="70.7" height="5.2"/>
<rect x="71.7" y="478.7" width="23.3" height="2.5"/>
<rect x="71.7" y="479.5" width="2.5" height="5.8"/>
<rect x="83.3" y="392" width="3" height="88.3"/>
<rect x="13.5" y="433.7" width="109.8" height="4.1"/>
<rect x="133.5" y="384.2" width="4.8" height="6"/>
<rect x="134.2" y="480.8" width="4.1" height="5.9"/>
<rect x="117.35" y="427.65" width="5.3" height="5.4" fill="#fff" stroke="#000" stroke-width="1.3"/>
<rect x="117.35" y="438.45" width="5.3" height="6.9" fill="#fff" stroke="#000" stroke-width="1.3"/>
<rect x="511.2" y="390" width="50" height="4.5"/>
<rect x="513.2" y="390" width="4.6" height="27.8"/>
<rect x="555.8" y="390" width="4.7" height="27.8"/>
<rect x="513.2" y="444.5" width="4.6" height="36.5"/>
<rect x="555.8" y="444.5" width="4.7" height="36.5"/>
<rect x="513.2" y="452.8" width="47.3" height="5"/>
<rect x="511.2" y="476.7" width="50" height="4.5"/>
<rect x="582.7" y="390" width="41.6" height="4.5"/>
<rect x="621.8" y="390" width="2.5" height="14"/>
<rect x="586.5" y="390" width="5" height="34.5"/>
<rect x="586.5" y="447" width="5" height="34.2"/>
<rect x="591.5" y="404" width="107.8" height="4.7"/>
<rect x="591.5" y="462" width="107.8" height="5"/>
<rect x="698.5" y="390" width="5" height="91.2"/>
<rect x="582.7" y="476.2" width="34.3" height="5"/>
<rect x="614" y="467" width="2.3" height="13.3"/>
<rect x="323.8" y="451.2" width="29.2" height="5"/>
<rect x="375.5" y="451.2" width="18.3" height="5"/>
<rect x="416.3" y="451.2" width="17.4" height="5"/>
<rect x="456.2" y="451.2" width="25.8" height="5"/>
<rect x="323.8" y="451.2" width="2.9" height="75.5"/>
<rect x="339.7" y="456" width="5.8" height="67.3"/>
<rect x="380.5" y="456" width="5" height="67.3"/>
<rect x="420.5" y="456" width="5" height="67.3"/>
<rect x="460.5" y="456" width="5.5" height="67.3"/>
<rect x="479.5" y="451.2" width="2.4" height="79.6"/>
<rect x="339.7" y="518.3" width="126.3" height="5"/>
<rect x="323.8" y="525.8" width="158.4" height="5"/>
<rect x="320.7" y="512.5" width="5" height="9.2"/>
<rect x="13.5" y="504.7" width="60.7" height="2.6"/>
<rect x="71.7" y="503.5" width="2.5" height="28.3"/>
<rect x="66.45" y="507.95" width="4.9" height="4.9" fill="#fff" stroke="#000" stroke-width="1.3"/>
<rect x="97.2" y="512.5" width="2.8" height="65.5"/>
<rect x="100" y="524.3" width="36.7" height="2.2"/>
<rect x="134.2" y="508.7" width="4.1" height="18.8"/>
<rect x="137" y="523" width="4.8" height="117"/>
<rect x="129.35" y="516.45" width="5" height="7.9" fill="#fff" stroke="#000" stroke-width="1.3"/>
<rect x="72.5" y="563.5" width="25" height="2.2"/>
<rect x="72.5" y="563.5" width="2.2" height="55.8"/>
<rect x="97.2" y="575.7" width="5.3" height="2.3"/>
<rect x="119.2" y="575.7" width="18.3" height="2.3"/>
<rect x="136.7" y="523" width="54.1" height="4.5"/>
<rect x="163.3" y="512.5" width="41.7" height="2.5"/>
<rect x="187.5" y="515" width="4.2" height="20.8"/>
<rect x="190" y="531.7" width="15" height="4.1"/>
<rect x="202.5" y="512.5" width="2.5" height="33.5"/>
<rect x="176.45" y="528.15" width="6.2" height="7" fill="#fff" stroke="#000" stroke-width="1.3"/>
<rect x="142" y="565.2" width="47" height="2.5"/>
<rect x="186.5" y="565.2" width="2.8" height="14.1"/>
<rect x="186.5" y="577.3" width="18.3" height="2"/>
<rect x="202.3" y="561.8" width="2.5" height="56.7"/>
<rect x="228" y="512.5" width="45.2" height="2.5"/>
<rect x="229" y="512.5" width="4" height="14.8"/>
<rect x="229" y="523" width="69.2" height="4.5"/>
<rect x="234" y="527.3" width="2" height="12"/>
<rect x="258.85" y="527.95" width="7.8" height="6.6" fill="#fff" stroke="#000" stroke-width="1.3"/>
<rect x="272.65" y="527.95" width="5.7" height="6.4" fill="#fff" stroke="#000" stroke-width="1.3"/>
<rect x="267.3" y="527.3" width="4.7" height="112.7"/>
<rect x="294" y="512.5" width="4.2" height="15"/>
<rect x="272" y="581.3" width="41.8" height="2.7"/>
<rect x="332.2" y="581.3" width="9.1" height="2.7"/>
<rect x="338.5" y="581.3" width="2.8" height="58.7"/>
<rect x="312.2" y="542.5" width="19.1" height="2.7"/>
<rect x="312.2" y="542.5" width="2.8" height="20.2"/>
<rect x="312.2" y="560.2" width="19.1" height="2.5"/>
<rect x="348" y="560.2" width="13.3" height="2.5"/>
<rect x="358.8" y="536.8" width="2.5" height="25.9"/>
<rect x="355.35" y="531.35" width="5.5" height="5.7" fill="#fff" stroke="#000" stroke-width="1.3"/>
<rect x="322.2" y="530.8" width="1.6" height="13.2"/>
<rect x="397.2" y="530.7" width="5" height="109.3"/>
<rect x="441" y="530.7" width="2.5" height="30.3"/>
<rect x="441.65" y="531.45" width="5.2" height="5.4" fill="#fff" stroke="#000" stroke-width="1.3"/>
<rect x="441" y="558.5" width="20.2" height="2.5"/>
<rect x="481.2" y="512.3" width="15.8" height="4.7"/>
<rect x="481.5" y="512.3" width="2.5" height="30.7"/>
<rect x="481.5" y="540.2" width="15.5" height="2.8"/>
<rect x="494.3" y="540.2" width="2.7" height="20.8"/>
<rect x="477.8" y="558.5" width="19.2" height="2.5"/>
<rect x="461.2" y="580.2" width="8.3" height="2.5"/>
<rect x="487.8" y="580.2" width="42.2" height="2.5"/>
<rect x="461.2" y="580.2" width="2.8" height="59.8"/>
<rect x="529.2" y="512.5" width="5" height="127.5"/>
<rect x="520.3" y="512.3" width="13.7" height="4.7"/>
<rect x="523.45" y="517.65" width="5.1" height="6.2" fill="#fff" stroke="#000" stroke-width="1.3"/>
<rect x="553" y="512.5" width="33.5" height="5"/>
<rect x="553" y="512.5" width="4" height="15"/>
<rect x="534" y="523" width="23" height="4.5"/>
<rect x="534.95" y="528.15" width="5.6" height="6.2" fill="#fff" stroke="#000" stroke-width="1.3"/>
<rect x="569.2" y="517.5" width="2" height="21.8"/>
<path fill-rule="evenodd" d="M609.5 512.5H666V527.5H609.5ZM614.5 515.5V523H660.3V515.5Z"/>
<rect x="620.5" y="527.5" width="2.5" height="11"/>
<rect x="610.3" y="535.8" width="12.7" height="2.9"/>
<rect x="654.35" y="528.15" width="5.3" height="6.2" fill="#fff" stroke="#000" stroke-width="1.3"/>
<rect x="610.2" y="554.3" width="2.8" height="14.2"/>
<rect x="596" y="567.7" width="64.2" height="2.8"/>
<rect x="595.2" y="567.7" width="2.8" height="50.8"/>
<rect x="659.8" y="512.3" width="4.9" height="127.7"/>
<rect x="664.3" y="561" width="36.7" height="2.5"/>
<rect x="666" y="512.5" width="8" height="5"/>
<rect x="698.5" y="480.8" width="2.5" height="36.7"/>
<rect x="696.8" y="512.5" width="33.4" height="5"/>
<rect x="730.2" y="492.5" width="40" height="2.5"/>
<rect x="767.7" y="475.8" width="3.3" height="25.9"/>
<rect x="767.7" y="498.7" width="58.3" height="2.8"/>
<rect x="766.15" y="500.65" width="5" height="6.2" fill="#fff" stroke="#000" stroke-width="1.3"/>
<rect x="771.8" y="501.7" width="2.5" height="36.6"/>
<rect x="726.8" y="535.5" width="14.7" height="3"/>
<rect x="758" y="535.5" width="30" height="3"/>
<rect x="720" y="561.3" width="31.7" height="2.7"/>
<rect x="770.8" y="561.3" width="17.5" height="2.7"/>
<rect x="723.7" y="561.3" width="2.6" height="78.7"/>
<rect x="785.8" y="561.3" width="2.5" height="78.7"/></g>
<g font-family="'Liberation Sans', Arial, sans-serif" font-size="8.25" fill="#111" stroke="#111" stroke-width="0.15"><rect x="31.6" y="323.15" width="51.4" height="9.8" fill="#fff" stroke="#b4b4b4" stroke-width="0.8"/>
<path d="M57.5 323.15V332.95" stroke="#b4b4b4" stroke-width="0.8"/>
<text x="44.55" y="331.1" text-anchor="middle" textLength="21.2" lengthAdjust="spacingAndGlyphs">25101</text>
<text x="70.25" y="331.1" text-anchor="middle" textLength="19.3" lengthAdjust="spacingAndGlyphs">61.36</text>
<rect x="146.6" y="294.05" width="52.3" height="8.9" fill="#fff" stroke="#b4b4b4" stroke-width="0.8"/>
<path d="M172.5 294.05V302.95" stroke="#b4b4b4" stroke-width="0.8"/>
<text x="159.55" y="301.55" text-anchor="middle" textLength="21.2" lengthAdjust="spacingAndGlyphs">25102</text>
<text x="185.7" y="301.55" text-anchor="middle" textLength="19.3" lengthAdjust="spacingAndGlyphs">36.65</text>
<rect x="308" y="294.25" width="51.7" height="8.7" fill="#fff" stroke="#b4b4b4" stroke-width="0.8"/>
<path d="M333.3 294.25V302.95" stroke="#b4b4b4" stroke-width="0.8"/>
<text x="320.65" y="301.65" text-anchor="middle" textLength="21.2" lengthAdjust="spacingAndGlyphs">25103</text>
<text x="346.5" y="301.65" text-anchor="middle" textLength="19.3" lengthAdjust="spacingAndGlyphs">36.57</text>
<rect x="437.3" y="294.25" width="52.2" height="8.7" fill="#fff" stroke="#b4b4b4" stroke-width="0.8"/>
<path d="M463.2 294.25V302.95" stroke="#b4b4b4" stroke-width="0.8"/>
<text x="450.25" y="301.65" text-anchor="middle" textLength="21.2" lengthAdjust="spacingAndGlyphs">25104</text>
<text x="476.35" y="301.65" text-anchor="middle" textLength="19.3" lengthAdjust="spacingAndGlyphs">36.55</text>
<rect x="541.2" y="310.45" width="51.5" height="8.5" fill="#fff" stroke="#b4b4b4" stroke-width="0.8"/>
<path d="M566.7 310.45V318.95" stroke="#b4b4b4" stroke-width="0.8"/>
<text x="553.95" y="317.75" text-anchor="middle" textLength="21.2" lengthAdjust="spacingAndGlyphs">25105</text>
<text x="579.7" y="317.75" text-anchor="middle" textLength="19.3" lengthAdjust="spacingAndGlyphs">37.19</text>
<rect x="711.8" y="313.15" width="52.9" height="8.5" fill="#fff" stroke="#b4b4b4" stroke-width="0.8"/>
<path d="M737.5 313.15V321.65" stroke="#b4b4b4" stroke-width="0.8"/>
<text x="724.65" y="320.45" text-anchor="middle" textLength="21.2" lengthAdjust="spacingAndGlyphs">25106</text>
<text x="751.1" y="320.45" text-anchor="middle" textLength="19.3" lengthAdjust="spacingAndGlyphs">81.80</text>
<rect x="31.7" y="542.25" width="51.6" height="8.4" fill="#fff" stroke="#b4b4b4" stroke-width="0.8"/>
<path d="M57.5 542.25V550.65" stroke="#b4b4b4" stroke-width="0.8"/>
<text x="44.6" y="549.5" text-anchor="middle" textLength="21.2" lengthAdjust="spacingAndGlyphs">25112</text>
<text x="70.4" y="549.5" text-anchor="middle" textLength="19.3" lengthAdjust="spacingAndGlyphs">59.41</text>
<rect x="210.7" y="568.15" width="51.6" height="8.7" fill="#fff" stroke="#b4b4b4" stroke-width="0.8"/>
<path d="M236.2 568.15V576.85" stroke="#b4b4b4" stroke-width="0.8"/>
<text x="223.45" y="575.55" text-anchor="middle" textLength="21.2" lengthAdjust="spacingAndGlyphs">25111</text>
<text x="249.25" y="575.55" text-anchor="middle" textLength="19.3" lengthAdjust="spacingAndGlyphs">34.88</text>
<rect x="303.8" y="568.15" width="52.5" height="9.2" fill="#fff" stroke="#b4b4b4" stroke-width="0.8"/>
<path d="M329.3 568.15V577.35" stroke="#b4b4b4" stroke-width="0.8"/>
<text x="316.55" y="575.8" text-anchor="middle" textLength="21.2" lengthAdjust="spacingAndGlyphs">25110</text>
<text x="342.8" y="575.8" text-anchor="middle" textLength="19.3" lengthAdjust="spacingAndGlyphs">33.94</text>
<rect x="442.8" y="566.15" width="51.7" height="8.7" fill="#fff" stroke="#b4b4b4" stroke-width="0.8"/>
<path d="M467.8 566.15V574.85" stroke="#b4b4b4" stroke-width="0.8"/>
<text x="455.3" y="573.55" text-anchor="middle" textLength="21.2" lengthAdjust="spacingAndGlyphs">25109</text>
<text x="481.15" y="573.55" text-anchor="middle" textLength="19.3" lengthAdjust="spacingAndGlyphs">34.93</text>
<rect x="551.7" y="551.45" width="51.8" height="8.4" fill="#fff" stroke="#b4b4b4" stroke-width="0.8"/>
<path d="M577.5 551.45V559.85" stroke="#b4b4b4" stroke-width="0.8"/>
<text x="564.6" y="558.7" text-anchor="middle" textLength="21.2" lengthAdjust="spacingAndGlyphs">25108</text>
<text x="590.5" y="558.7" text-anchor="middle" textLength="19.3" lengthAdjust="spacingAndGlyphs">35.40</text>
<rect x="686.8" y="544.65" width="52.2" height="9" fill="#fff" stroke="#b4b4b4" stroke-width="0.8"/>
<path d="M713.8 544.65V553.65" stroke="#b4b4b4" stroke-width="0.8"/>
<text x="700.3" y="552.2" text-anchor="middle" textLength="21.2" lengthAdjust="spacingAndGlyphs">25107</text>
<text x="726.4" y="552.2" text-anchor="middle" textLength="19.3" lengthAdjust="spacingAndGlyphs">79.59</text></g>
</svg>
</body></html>
